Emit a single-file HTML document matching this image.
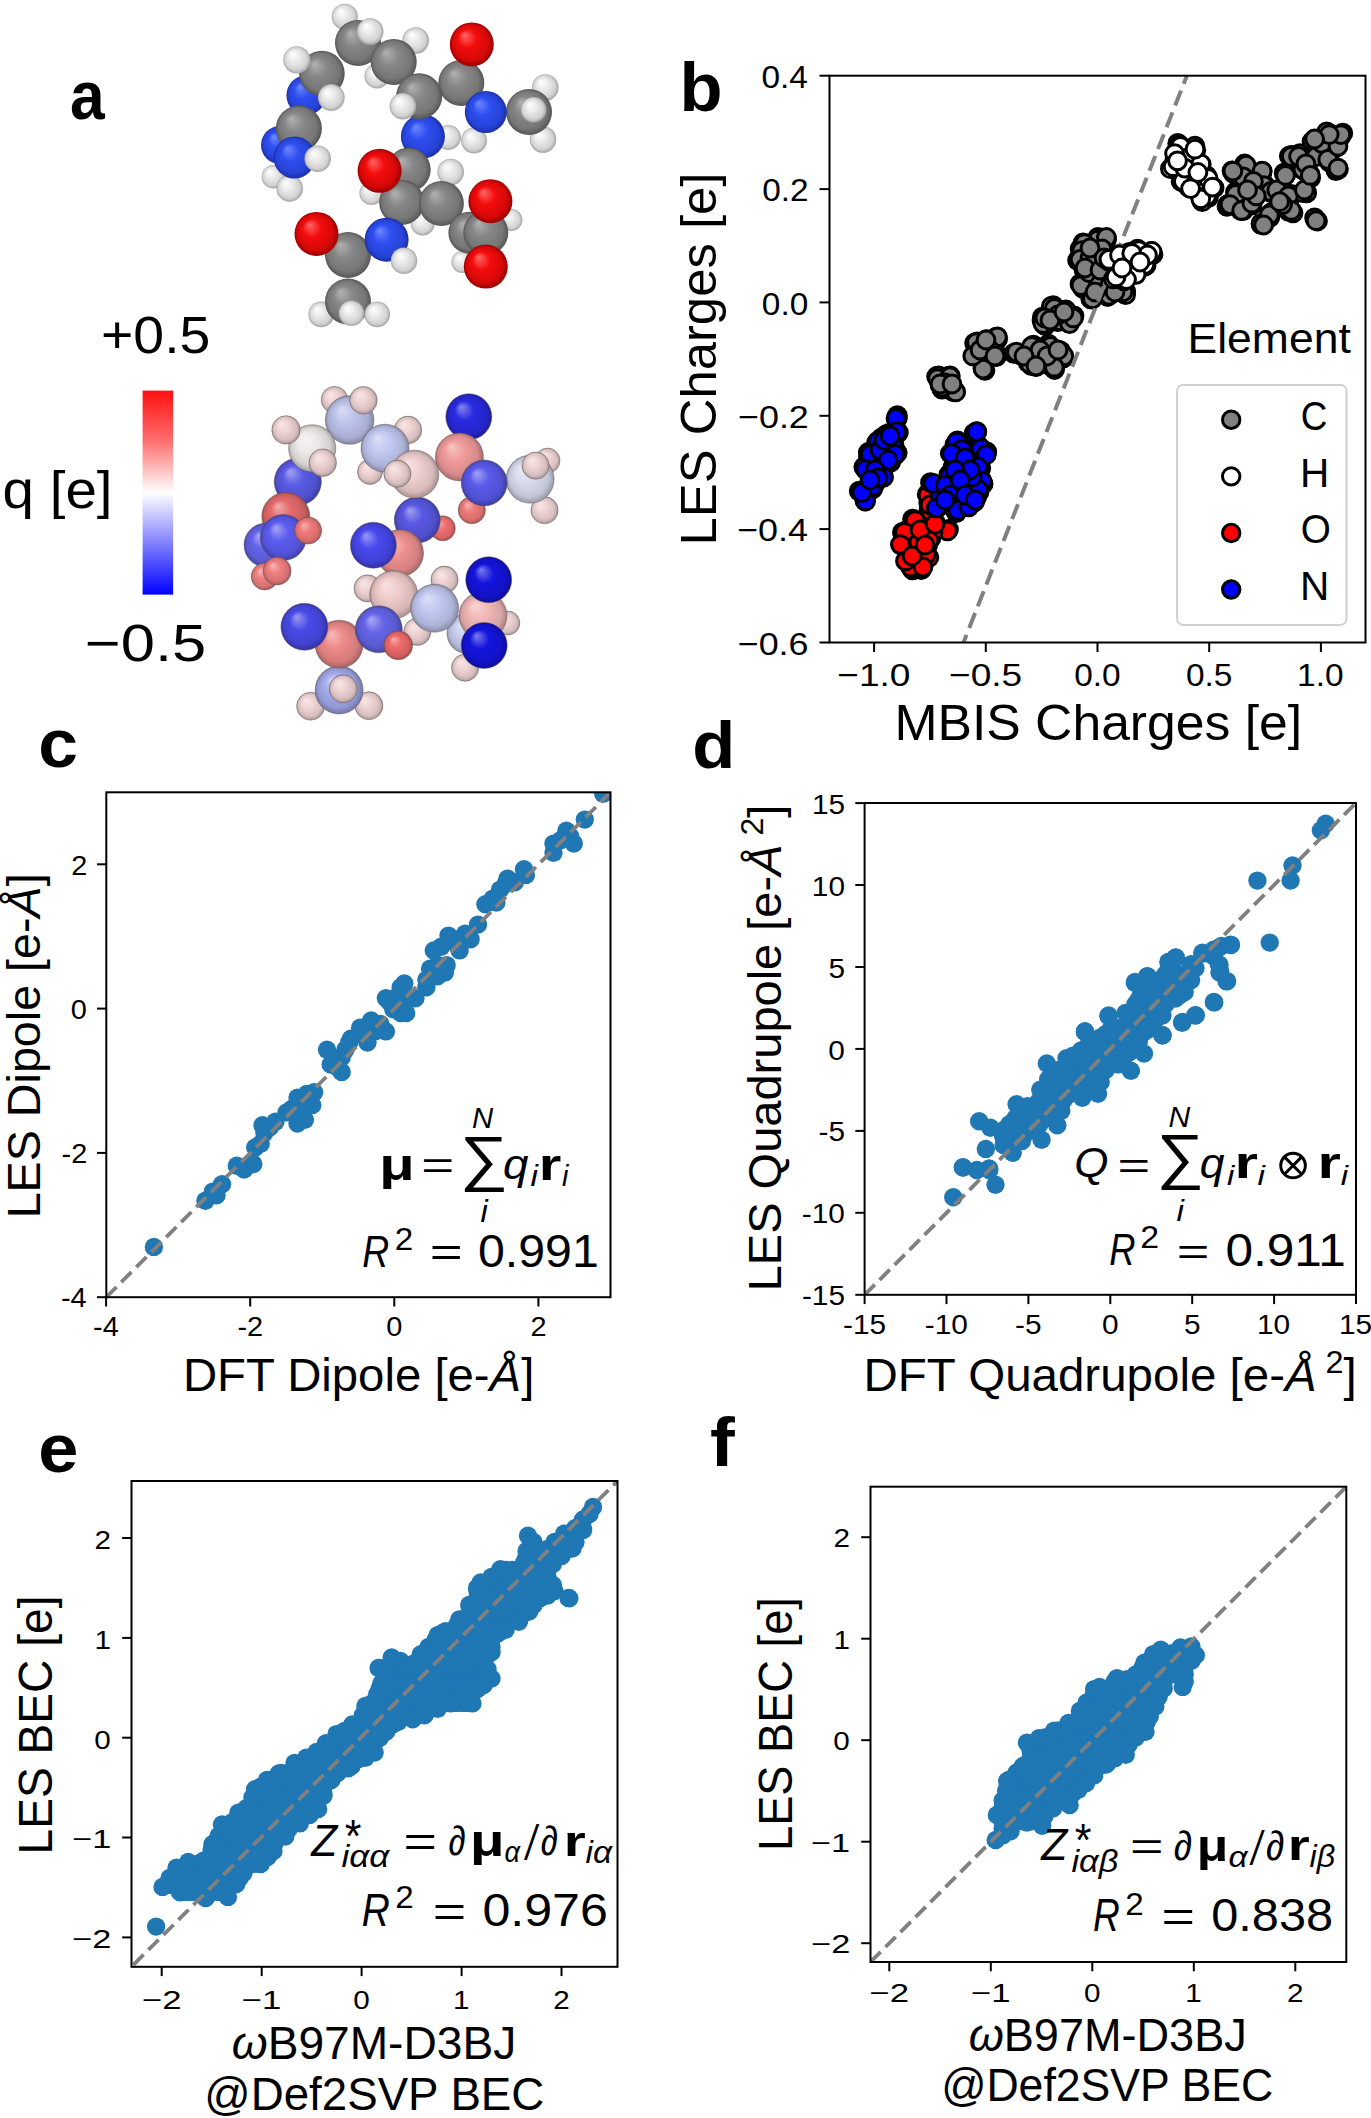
<!DOCTYPE html>
<html><head><meta charset="utf-8"><title>Figure</title>
<style>html,body{margin:0;padding:0;background:#fff;width:1371px;height:2118px;overflow:hidden}svg{display:block}text{font-family:"Liberation Sans",sans-serif}</style>
</head><body>
<svg width="1371" height="2118" viewBox="0 0 1371 2118" font-family="'Liberation Sans', sans-serif"><defs><clipPath id="cb"><rect x="829.5" y="75.7" width="536.0" height="566.8"/></clipPath><clipPath id="cc"><rect x="106.3" y="792.3" width="504.2" height="504.9000000000001"/></clipPath><clipPath id="cd"><rect x="864.6" y="803" width="491.4" height="491.79999999999995"/></clipPath><clipPath id="ce"><rect x="131.5" y="1481" width="486.0" height="485.79999999999995"/></clipPath><clipPath id="cf"><rect x="870.5" y="1486.7" width="475.79999999999995" height="475.29999999999995"/></clipPath><linearGradient id="cbar" x1="0" y1="0" x2="0" y2="1"><stop offset="0" stop-color="#ff1010"/><stop offset="0.25" stop-color="#ff7070"/><stop offset="0.5" stop-color="#ffffff"/><stop offset="0.75" stop-color="#8080ff"/><stop offset="1" stop-color="#0000ff"/></linearGradient><radialGradient id="g1" cx="0.5" cy="0.5" r="0.5" fx="0.33" fy="0.28"><stop offset="0" stop-color="#b2b2b2"/><stop offset="0.42" stop-color="#878787"/><stop offset="0.82" stop-color="#767676"/><stop offset="1" stop-color="#555555"/></radialGradient><radialGradient id="g2" cx="0.5" cy="0.5" r="0.5" fx="0.33" fy="0.28"><stop offset="0" stop-color="#ffffff"/><stop offset="0.42" stop-color="#ebebeb"/><stop offset="0.82" stop-color="#d2d2d2"/><stop offset="1" stop-color="#a4a4a4"/></radialGradient><radialGradient id="g3" cx="0.5" cy="0.5" r="0.5" fx="0.33" fy="0.28"><stop offset="0" stop-color="#6f88ff"/><stop offset="0.42" stop-color="#2e4ef0"/><stop offset="0.82" stop-color="#2743d7"/><stop offset="1" stop-color="#1a2fa8"/></radialGradient><radialGradient id="g4" cx="0.5" cy="0.5" r="0.5" fx="0.33" fy="0.28"><stop offset="0" stop-color="#ff6a6a"/><stop offset="0.42" stop-color="#f40c0c"/><stop offset="0.82" stop-color="#d40808"/><stop offset="1" stop-color="#9a0000"/></radialGradient><radialGradient id="g5" cx="0.5" cy="0.5" r="0.5" fx="0.33" fy="0.28"><stop offset="0" stop-color="#f6e7e7"/><stop offset="0.42" stop-color="#f0d4d4"/><stop offset="0.82" stop-color="#d7bebe"/><stop offset="1" stop-color="#a89494"/></radialGradient><radialGradient id="g6" cx="0.5" cy="0.5" r="0.5" fx="0.33" fy="0.28"><stop offset="0" stop-color="#dbdef4"/><stop offset="0.42" stop-color="#bec3eb"/><stop offset="0.82" stop-color="#aaaed2"/><stop offset="1" stop-color="#8588a4"/></radialGradient><radialGradient id="g7" cx="0.5" cy="0.5" r="0.5" fx="0.33" fy="0.28"><stop offset="0" stop-color="#dde0f6"/><stop offset="0.42" stop-color="#c2c8f0"/><stop offset="0.82" stop-color="#adb3d7"/><stop offset="1" stop-color="#878ca8"/></radialGradient><radialGradient id="g8" cx="0.5" cy="0.5" r="0.5" fx="0.33" fy="0.28"><stop offset="0" stop-color="#a4a4f1"/><stop offset="0.42" stop-color="#5a5ae6"/><stop offset="0.82" stop-color="#5050ce"/><stop offset="1" stop-color="#3e3ea1"/></radialGradient><radialGradient id="g9" cx="0.5" cy="0.5" r="0.5" fx="0.33" fy="0.28"><stop offset="0" stop-color="#f5f2f2"/><stop offset="0.42" stop-color="#eee9e9"/><stop offset="0.82" stop-color="#d5d0d0"/><stop offset="1" stop-color="#a6a3a3"/></radialGradient><radialGradient id="g10" cx="0.5" cy="0.5" r="0.5" fx="0.33" fy="0.28"><stop offset="0" stop-color="#f0adad"/><stop offset="0.42" stop-color="#e46a6a"/><stop offset="0.82" stop-color="#cc5f5f"/><stop offset="1" stop-color="#9f4a4a"/></radialGradient><radialGradient id="g11" cx="0.5" cy="0.5" r="0.5" fx="0.33" fy="0.28"><stop offset="0" stop-color="#a9a9f3"/><stop offset="0.42" stop-color="#6464ea"/><stop offset="0.82" stop-color="#5a5ad1"/><stop offset="1" stop-color="#4646a3"/></radialGradient><radialGradient id="g12" cx="0.5" cy="0.5" r="0.5" fx="0.33" fy="0.28"><stop offset="0" stop-color="#a5a5f6"/><stop offset="0.42" stop-color="#5c5cf0"/><stop offset="0.82" stop-color="#5252d7"/><stop offset="1" stop-color="#4040a8"/></radialGradient><radialGradient id="g13" cx="0.5" cy="0.5" r="0.5" fx="0.33" fy="0.28"><stop offset="0" stop-color="#f6b9b9"/><stop offset="0.42" stop-color="#f08080"/><stop offset="0.82" stop-color="#d77272"/><stop offset="1" stop-color="#a85959"/></radialGradient><radialGradient id="g14" cx="0.5" cy="0.5" r="0.5" fx="0.33" fy="0.28"><stop offset="0" stop-color="#f6b5b5"/><stop offset="0.42" stop-color="#f07a7a"/><stop offset="0.82" stop-color="#d76d6d"/><stop offset="1" stop-color="#a85555"/></radialGradient><radialGradient id="g15" cx="0.5" cy="0.5" r="0.5" fx="0.33" fy="0.28"><stop offset="0" stop-color="#8989ef"/><stop offset="0.42" stop-color="#2a2ae2"/><stop offset="0.82" stop-color="#2525ca"/><stop offset="1" stop-color="#1d1d9e"/></radialGradient><radialGradient id="g16" cx="0.5" cy="0.5" r="0.5" fx="0.33" fy="0.28"><stop offset="0" stop-color="#f6c7c7"/><stop offset="0.42" stop-color="#f09a9a"/><stop offset="0.82" stop-color="#d78a8a"/><stop offset="1" stop-color="#a86b6b"/></radialGradient><radialGradient id="g17" cx="0.5" cy="0.5" r="0.5" fx="0.33" fy="0.28"><stop offset="0" stop-color="#e9ebf5"/><stop offset="0.42" stop-color="#d8dcee"/><stop offset="0.82" stop-color="#c1c5d5"/><stop offset="1" stop-color="#979aa6"/></radialGradient><radialGradient id="g18" cx="0.5" cy="0.5" r="0.5" fx="0.33" fy="0.28"><stop offset="0" stop-color="#a4a4f4"/><stop offset="0.42" stop-color="#5a5aeb"/><stop offset="0.82" stop-color="#5050d2"/><stop offset="1" stop-color="#3e3ea4"/></radialGradient><radialGradient id="g19" cx="0.5" cy="0.5" r="0.5" fx="0.33" fy="0.28"><stop offset="0" stop-color="#f6b0b0"/><stop offset="0.42" stop-color="#f07070"/><stop offset="0.82" stop-color="#d76464"/><stop offset="1" stop-color="#a84e4e"/></radialGradient><radialGradient id="g20" cx="0.5" cy="0.5" r="0.5" fx="0.33" fy="0.28"><stop offset="0" stop-color="#a3a3f0"/><stop offset="0.42" stop-color="#5858e4"/><stop offset="0.82" stop-color="#4f4fcc"/><stop offset="1" stop-color="#3d3d9f"/></radialGradient><radialGradient id="g21" cx="0.5" cy="0.5" r="0.5" fx="0.33" fy="0.28"><stop offset="0" stop-color="#f6e5e5"/><stop offset="0.42" stop-color="#f0d0d0"/><stop offset="0.82" stop-color="#d7baba"/><stop offset="1" stop-color="#a89191"/></radialGradient><radialGradient id="g22" cx="0.5" cy="0.5" r="0.5" fx="0.33" fy="0.28"><stop offset="0" stop-color="#f5c1c1"/><stop offset="0.42" stop-color="#ee9090"/><stop offset="0.82" stop-color="#d58181"/><stop offset="1" stop-color="#a66464"/></radialGradient><radialGradient id="g23" cx="0.5" cy="0.5" r="0.5" fx="0.33" fy="0.28"><stop offset="0" stop-color="#9a9af5"/><stop offset="0.42" stop-color="#4848ee"/><stop offset="0.82" stop-color="#4040d5"/><stop offset="1" stop-color="#3232a6"/></radialGradient><radialGradient id="g24" cx="0.5" cy="0.5" r="0.5" fx="0.33" fy="0.28"><stop offset="0" stop-color="#f6e2e2"/><stop offset="0.42" stop-color="#f0cccc"/><stop offset="0.82" stop-color="#d7b6b6"/><stop offset="1" stop-color="#a88e8e"/></radialGradient><radialGradient id="g25" cx="0.5" cy="0.5" r="0.5" fx="0.33" fy="0.28"><stop offset="0" stop-color="#e0e4f6"/><stop offset="0.42" stop-color="#c8cef0"/><stop offset="0.82" stop-color="#b3b8d7"/><stop offset="1" stop-color="#8c90a8"/></radialGradient><radialGradient id="g26" cx="0.5" cy="0.5" r="0.5" fx="0.33" fy="0.28"><stop offset="0" stop-color="#f7d7d7"/><stop offset="0.42" stop-color="#f2b8b8"/><stop offset="0.82" stop-color="#d8a4a4"/><stop offset="1" stop-color="#a98080"/></radialGradient><radialGradient id="g27" cx="0.5" cy="0.5" r="0.5" fx="0.33" fy="0.28"><stop offset="0" stop-color="#7d7dec"/><stop offset="0.42" stop-color="#1414dd"/><stop offset="0.82" stop-color="#1212c6"/><stop offset="1" stop-color="#0e0e9a"/></radialGradient><radialGradient id="g28" cx="0.5" cy="0.5" r="0.5" fx="0.33" fy="0.28"><stop offset="0" stop-color="#ccd0f4"/><stop offset="0.42" stop-color="#a4aaec"/><stop offset="0.82" stop-color="#9298d3"/><stop offset="1" stop-color="#7276a5"/></radialGradient><radialGradient id="g29" cx="0.5" cy="0.5" r="0.5" fx="0.33" fy="0.28"><stop offset="0" stop-color="#f5bebe"/><stop offset="0.42" stop-color="#ee8a8a"/><stop offset="0.82" stop-color="#d57b7b"/><stop offset="1" stop-color="#a66060"/></radialGradient><radialGradient id="g30" cx="0.5" cy="0.5" r="0.5" fx="0.33" fy="0.28"><stop offset="0" stop-color="#9b9bf2"/><stop offset="0.42" stop-color="#4a4ae8"/><stop offset="0.82" stop-color="#4242d0"/><stop offset="1" stop-color="#3333a2"/></radialGradient><radialGradient id="g31" cx="0.5" cy="0.5" r="0.5" fx="0.33" fy="0.28"><stop offset="0" stop-color="#a9a9f2"/><stop offset="0.42" stop-color="#6464e8"/><stop offset="0.82" stop-color="#5a5ad0"/><stop offset="1" stop-color="#4646a2"/></radialGradient><radialGradient id="g32" cx="0.5" cy="0.5" r="0.5" fx="0.33" fy="0.28"><stop offset="0" stop-color="#f5adad"/><stop offset="0.42" stop-color="#ee6a6a"/><stop offset="0.82" stop-color="#d55f5f"/><stop offset="1" stop-color="#a64a4a"/></radialGradient></defs><rect width="1371" height="2118" fill="#fff"/><g clip-path="url(#cb)"><circle cx="936.6" cy="376.5" r="8.9" fill="#808080" stroke="#000" stroke-width="3.0"/><circle cx="938.6" cy="376.0" r="8.9" fill="#808080" stroke="#000" stroke-width="3.0"/><circle cx="950.2" cy="375.9" r="8.9" fill="#808080" stroke="#000" stroke-width="3.0"/><circle cx="947.3" cy="376.7" r="8.9" fill="#808080" stroke="#000" stroke-width="3.0"/><circle cx="952.9" cy="391.5" r="8.9" fill="#808080" stroke="#000" stroke-width="3.0"/><circle cx="953.1" cy="389.4" r="8.9" fill="#808080" stroke="#000" stroke-width="3.0"/><circle cx="941.9" cy="389.1" r="8.9" fill="#808080" stroke="#000" stroke-width="3.0"/><circle cx="940.1" cy="385.4" r="8.9" fill="#808080" stroke="#000" stroke-width="3.0"/><circle cx="945.8" cy="385.7" r="8.9" fill="#808080" stroke="#000" stroke-width="3.0"/><circle cx="945.5" cy="382.4" r="8.9" fill="#808080" stroke="#000" stroke-width="3.0"/><circle cx="942.9" cy="381.3" r="8.9" fill="#808080" stroke="#000" stroke-width="3.0"/><circle cx="942.2" cy="382.7" r="8.9" fill="#808080" stroke="#000" stroke-width="3.0"/><circle cx="949.9" cy="381.7" r="8.9" fill="#808080" stroke="#000" stroke-width="3.0"/><circle cx="950.9" cy="385.9" r="8.9" fill="#808080" stroke="#000" stroke-width="3.0"/><circle cx="974.6" cy="343.1" r="8.9" fill="#808080" stroke="#000" stroke-width="3.0"/><circle cx="977.3" cy="341.8" r="8.9" fill="#808080" stroke="#000" stroke-width="3.0"/><circle cx="993.9" cy="343.8" r="8.9" fill="#808080" stroke="#000" stroke-width="3.0"/><circle cx="991.0" cy="344.6" r="8.9" fill="#808080" stroke="#000" stroke-width="3.0"/><circle cx="985.2" cy="359.3" r="8.9" fill="#808080" stroke="#000" stroke-width="3.0"/><circle cx="983.0" cy="360.2" r="8.9" fill="#808080" stroke="#000" stroke-width="3.0"/><circle cx="982.9" cy="367.9" r="8.9" fill="#808080" stroke="#000" stroke-width="3.0"/><circle cx="985.0" cy="370.3" r="8.9" fill="#808080" stroke="#000" stroke-width="3.0"/><circle cx="995.9" cy="337.3" r="8.9" fill="#808080" stroke="#000" stroke-width="3.0"/><circle cx="997.6" cy="339.2" r="8.9" fill="#808080" stroke="#000" stroke-width="3.0"/><circle cx="974.2" cy="354.6" r="8.9" fill="#808080" stroke="#000" stroke-width="3.0"/><circle cx="975.7" cy="353.6" r="8.9" fill="#808080" stroke="#000" stroke-width="3.0"/><circle cx="989.5" cy="351.5" r="8.9" fill="#808080" stroke="#000" stroke-width="3.0"/><circle cx="987.9" cy="349.9" r="8.9" fill="#808080" stroke="#000" stroke-width="3.0"/><circle cx="977.2" cy="351.0" r="8.9" fill="#808080" stroke="#000" stroke-width="3.0"/><circle cx="981.6" cy="350.4" r="8.9" fill="#808080" stroke="#000" stroke-width="3.0"/><circle cx="997.3" cy="354.9" r="8.9" fill="#808080" stroke="#000" stroke-width="3.0"/><circle cx="996.2" cy="356.6" r="8.9" fill="#808080" stroke="#000" stroke-width="3.0"/><circle cx="986.5" cy="339.7" r="8.9" fill="#808080" stroke="#000" stroke-width="3.0"/><circle cx="988.0" cy="342.7" r="8.9" fill="#808080" stroke="#000" stroke-width="3.0"/><circle cx="1016.2" cy="353.1" r="8.9" fill="#808080" stroke="#000" stroke-width="3.0"/><circle cx="1013.8" cy="353.3" r="8.9" fill="#808080" stroke="#000" stroke-width="3.0"/><circle cx="1032.4" cy="349.4" r="8.9" fill="#808080" stroke="#000" stroke-width="3.0"/><circle cx="1033.4" cy="345.1" r="8.9" fill="#808080" stroke="#000" stroke-width="3.0"/><circle cx="1040.3" cy="362.5" r="8.9" fill="#808080" stroke="#000" stroke-width="3.0"/><circle cx="1038.1" cy="361.3" r="8.9" fill="#808080" stroke="#000" stroke-width="3.0"/><circle cx="1048.5" cy="344.1" r="8.9" fill="#808080" stroke="#000" stroke-width="3.0"/><circle cx="1047.9" cy="348.0" r="8.9" fill="#808080" stroke="#000" stroke-width="3.0"/><circle cx="1061.6" cy="354.4" r="8.9" fill="#808080" stroke="#000" stroke-width="3.0"/><circle cx="1063.1" cy="358.1" r="8.9" fill="#808080" stroke="#000" stroke-width="3.0"/><circle cx="1051.8" cy="366.9" r="8.9" fill="#808080" stroke="#000" stroke-width="3.0"/><circle cx="1054.6" cy="369.5" r="8.9" fill="#808080" stroke="#000" stroke-width="3.0"/><circle cx="1031.5" cy="365.6" r="8.9" fill="#808080" stroke="#000" stroke-width="3.0"/><circle cx="1028.3" cy="362.9" r="8.9" fill="#808080" stroke="#000" stroke-width="3.0"/><circle cx="1039.2" cy="352.3" r="8.9" fill="#808080" stroke="#000" stroke-width="3.0"/><circle cx="1042.7" cy="347.9" r="8.9" fill="#808080" stroke="#000" stroke-width="3.0"/><circle cx="1022.1" cy="354.4" r="8.9" fill="#808080" stroke="#000" stroke-width="3.0"/><circle cx="1022.4" cy="355.9" r="8.9" fill="#808080" stroke="#000" stroke-width="3.0"/><circle cx="1047.5" cy="354.6" r="8.9" fill="#808080" stroke="#000" stroke-width="3.0"/><circle cx="1044.0" cy="355.5" r="8.9" fill="#808080" stroke="#000" stroke-width="3.0"/><circle cx="1057.2" cy="350.4" r="8.9" fill="#808080" stroke="#000" stroke-width="3.0"/><circle cx="1060.7" cy="351.1" r="8.9" fill="#808080" stroke="#000" stroke-width="3.0"/><circle cx="1036.1" cy="366.7" r="8.9" fill="#808080" stroke="#000" stroke-width="3.0"/><circle cx="1037.1" cy="363.3" r="8.9" fill="#808080" stroke="#000" stroke-width="3.0"/><circle cx="1045.3" cy="325.3" r="8.9" fill="#808080" stroke="#000" stroke-width="3.0"/><circle cx="1045.1" cy="325.4" r="8.9" fill="#808080" stroke="#000" stroke-width="3.0"/><circle cx="1059.4" cy="320.2" r="8.9" fill="#808080" stroke="#000" stroke-width="3.0"/><circle cx="1057.6" cy="321.6" r="8.9" fill="#808080" stroke="#000" stroke-width="3.0"/><circle cx="1066.9" cy="321.0" r="8.9" fill="#808080" stroke="#000" stroke-width="3.0"/><circle cx="1067.8" cy="321.6" r="8.9" fill="#808080" stroke="#000" stroke-width="3.0"/><circle cx="1053.3" cy="305.7" r="8.9" fill="#808080" stroke="#000" stroke-width="3.0"/><circle cx="1051.3" cy="306.3" r="8.9" fill="#808080" stroke="#000" stroke-width="3.0"/><circle cx="1042.4" cy="317.1" r="8.9" fill="#808080" stroke="#000" stroke-width="3.0"/><circle cx="1042.0" cy="320.1" r="8.9" fill="#808080" stroke="#000" stroke-width="3.0"/><circle cx="1074.0" cy="315.8" r="8.9" fill="#808080" stroke="#000" stroke-width="3.0"/><circle cx="1071.8" cy="317.0" r="8.9" fill="#808080" stroke="#000" stroke-width="3.0"/><circle cx="1057.2" cy="312.7" r="8.9" fill="#808080" stroke="#000" stroke-width="3.0"/><circle cx="1060.1" cy="318.0" r="8.9" fill="#808080" stroke="#000" stroke-width="3.0"/><circle cx="1049.8" cy="319.9" r="8.9" fill="#808080" stroke="#000" stroke-width="3.0"/><circle cx="1047.5" cy="317.6" r="8.9" fill="#808080" stroke="#000" stroke-width="3.0"/><circle cx="1063.1" cy="310.6" r="8.9" fill="#808080" stroke="#000" stroke-width="3.0"/><circle cx="1066.0" cy="310.0" r="8.9" fill="#808080" stroke="#000" stroke-width="3.0"/><circle cx="1092.1" cy="262.1" r="8.9" fill="#808080" stroke="#000" stroke-width="3.0"/><circle cx="1095.2" cy="257.3" r="8.9" fill="#808080" stroke="#000" stroke-width="3.0"/><circle cx="1097.9" cy="237.3" r="8.9" fill="#808080" stroke="#000" stroke-width="3.0"/><circle cx="1097.8" cy="243.0" r="8.9" fill="#808080" stroke="#000" stroke-width="3.0"/><circle cx="1086.7" cy="244.8" r="8.9" fill="#808080" stroke="#000" stroke-width="3.0"/><circle cx="1083.1" cy="242.8" r="8.9" fill="#808080" stroke="#000" stroke-width="3.0"/><circle cx="1104.4" cy="239.1" r="8.9" fill="#808080" stroke="#000" stroke-width="3.0"/><circle cx="1106.6" cy="239.2" r="8.9" fill="#808080" stroke="#000" stroke-width="3.0"/><circle cx="1080.0" cy="283.9" r="8.9" fill="#808080" stroke="#000" stroke-width="3.0"/><circle cx="1082.9" cy="288.5" r="8.9" fill="#808080" stroke="#000" stroke-width="3.0"/><circle cx="1091.0" cy="274.3" r="8.9" fill="#808080" stroke="#000" stroke-width="3.0"/><circle cx="1090.8" cy="273.9" r="8.9" fill="#808080" stroke="#000" stroke-width="3.0"/><circle cx="1090.8" cy="298.9" r="8.9" fill="#808080" stroke="#000" stroke-width="3.0"/><circle cx="1091.5" cy="296.0" r="8.9" fill="#808080" stroke="#000" stroke-width="3.0"/><circle cx="1106.2" cy="294.0" r="8.9" fill="#808080" stroke="#000" stroke-width="3.0"/><circle cx="1107.6" cy="296.5" r="8.9" fill="#808080" stroke="#000" stroke-width="3.0"/><circle cx="1125.7" cy="291.5" r="8.9" fill="#808080" stroke="#000" stroke-width="3.0"/><circle cx="1125.6" cy="294.7" r="8.9" fill="#808080" stroke="#000" stroke-width="3.0"/><circle cx="1102.1" cy="284.0" r="8.9" fill="#808080" stroke="#000" stroke-width="3.0"/><circle cx="1097.7" cy="283.2" r="8.9" fill="#808080" stroke="#000" stroke-width="3.0"/><circle cx="1080.1" cy="248.8" r="8.9" fill="#808080" stroke="#000" stroke-width="3.0"/><circle cx="1082.6" cy="253.0" r="8.9" fill="#808080" stroke="#000" stroke-width="3.0"/><circle cx="1104.0" cy="248.8" r="8.9" fill="#808080" stroke="#000" stroke-width="3.0"/><circle cx="1102.9" cy="250.7" r="8.9" fill="#808080" stroke="#000" stroke-width="3.0"/><circle cx="1077.6" cy="260.4" r="8.9" fill="#808080" stroke="#000" stroke-width="3.0"/><circle cx="1082.6" cy="261.1" r="8.9" fill="#808080" stroke="#000" stroke-width="3.0"/><circle cx="1091.5" cy="257.9" r="8.9" fill="#808080" stroke="#000" stroke-width="3.0"/><circle cx="1088.1" cy="259.7" r="8.9" fill="#808080" stroke="#000" stroke-width="3.0"/><circle cx="1084.0" cy="269.8" r="8.9" fill="#808080" stroke="#000" stroke-width="3.0"/><circle cx="1087.8" cy="267.4" r="8.9" fill="#808080" stroke="#000" stroke-width="3.0"/><circle cx="1099.4" cy="272.7" r="8.9" fill="#808080" stroke="#000" stroke-width="3.0"/><circle cx="1101.3" cy="268.0" r="8.9" fill="#808080" stroke="#000" stroke-width="3.0"/><circle cx="1107.8" cy="282.9" r="8.9" fill="#808080" stroke="#000" stroke-width="3.0"/><circle cx="1112.4" cy="286.8" r="8.9" fill="#808080" stroke="#000" stroke-width="3.0"/><circle cx="1092.9" cy="294.0" r="8.9" fill="#808080" stroke="#000" stroke-width="3.0"/><circle cx="1097.9" cy="292.9" r="8.9" fill="#808080" stroke="#000" stroke-width="3.0"/><circle cx="1114.1" cy="292.3" r="8.9" fill="#808080" stroke="#000" stroke-width="3.0"/><circle cx="1112.8" cy="289.1" r="8.9" fill="#808080" stroke="#000" stroke-width="3.0"/><circle cx="1092.8" cy="248.9" r="8.9" fill="#808080" stroke="#000" stroke-width="3.0"/><circle cx="1090.2" cy="250.6" r="8.9" fill="#808080" stroke="#000" stroke-width="3.0"/><circle cx="1103.6" cy="260.2" r="8.9" fill="#808080" stroke="#000" stroke-width="3.0"/><circle cx="1106.0" cy="256.3" r="8.9" fill="#808080" stroke="#000" stroke-width="3.0"/><circle cx="1244.6" cy="164.0" r="8.9" fill="#808080" stroke="#000" stroke-width="3.0"/><circle cx="1244.5" cy="165.7" r="8.9" fill="#808080" stroke="#000" stroke-width="3.0"/><circle cx="1241.8" cy="176.4" r="8.9" fill="#808080" stroke="#000" stroke-width="3.0"/><circle cx="1241.0" cy="179.4" r="8.9" fill="#808080" stroke="#000" stroke-width="3.0"/><circle cx="1232.0" cy="170.8" r="8.9" fill="#808080" stroke="#000" stroke-width="3.0"/><circle cx="1233.4" cy="173.5" r="8.9" fill="#808080" stroke="#000" stroke-width="3.0"/><circle cx="1261.6" cy="173.6" r="8.9" fill="#808080" stroke="#000" stroke-width="3.0"/><circle cx="1262.1" cy="171.3" r="8.9" fill="#808080" stroke="#000" stroke-width="3.0"/><circle cx="1236.0" cy="191.5" r="8.9" fill="#808080" stroke="#000" stroke-width="3.0"/><circle cx="1235.5" cy="192.5" r="8.9" fill="#808080" stroke="#000" stroke-width="3.0"/><circle cx="1227.0" cy="206.4" r="8.9" fill="#808080" stroke="#000" stroke-width="3.0"/><circle cx="1228.0" cy="204.4" r="8.9" fill="#808080" stroke="#000" stroke-width="3.0"/><circle cx="1243.1" cy="210.7" r="8.9" fill="#808080" stroke="#000" stroke-width="3.0"/><circle cx="1240.7" cy="210.5" r="8.9" fill="#808080" stroke="#000" stroke-width="3.0"/><circle cx="1252.2" cy="204.9" r="8.9" fill="#808080" stroke="#000" stroke-width="3.0"/><circle cx="1249.5" cy="203.6" r="8.9" fill="#808080" stroke="#000" stroke-width="3.0"/><circle cx="1262.1" cy="184.3" r="8.9" fill="#808080" stroke="#000" stroke-width="3.0"/><circle cx="1265.2" cy="185.6" r="8.9" fill="#808080" stroke="#000" stroke-width="3.0"/><circle cx="1253.8" cy="182.9" r="8.9" fill="#808080" stroke="#000" stroke-width="3.0"/><circle cx="1255.9" cy="181.0" r="8.9" fill="#808080" stroke="#000" stroke-width="3.0"/><circle cx="1271.6" cy="191.5" r="8.9" fill="#808080" stroke="#000" stroke-width="3.0"/><circle cx="1271.0" cy="192.7" r="8.9" fill="#808080" stroke="#000" stroke-width="3.0"/><circle cx="1276.4" cy="190.2" r="8.9" fill="#808080" stroke="#000" stroke-width="3.0"/><circle cx="1276.6" cy="192.6" r="8.9" fill="#808080" stroke="#000" stroke-width="3.0"/><circle cx="1289.6" cy="198.2" r="8.9" fill="#808080" stroke="#000" stroke-width="3.0"/><circle cx="1291.1" cy="194.5" r="8.9" fill="#808080" stroke="#000" stroke-width="3.0"/><circle cx="1269.8" cy="217.5" r="8.9" fill="#808080" stroke="#000" stroke-width="3.0"/><circle cx="1271.4" cy="212.6" r="8.9" fill="#808080" stroke="#000" stroke-width="3.0"/><circle cx="1261.3" cy="224.7" r="8.9" fill="#808080" stroke="#000" stroke-width="3.0"/><circle cx="1261.0" cy="223.4" r="8.9" fill="#808080" stroke="#000" stroke-width="3.0"/><circle cx="1288.7" cy="211.4" r="8.9" fill="#808080" stroke="#000" stroke-width="3.0"/><circle cx="1293.0" cy="212.8" r="8.9" fill="#808080" stroke="#000" stroke-width="3.0"/><circle cx="1280.4" cy="205.9" r="8.9" fill="#808080" stroke="#000" stroke-width="3.0"/><circle cx="1283.5" cy="202.5" r="8.9" fill="#808080" stroke="#000" stroke-width="3.0"/><circle cx="1306.7" cy="192.8" r="8.9" fill="#808080" stroke="#000" stroke-width="3.0"/><circle cx="1302.7" cy="192.7" r="8.9" fill="#808080" stroke="#000" stroke-width="3.0"/><circle cx="1302.4" cy="169.5" r="8.9" fill="#808080" stroke="#000" stroke-width="3.0"/><circle cx="1305.9" cy="171.6" r="8.9" fill="#808080" stroke="#000" stroke-width="3.0"/><circle cx="1289.3" cy="156.1" r="8.9" fill="#808080" stroke="#000" stroke-width="3.0"/><circle cx="1291.4" cy="155.5" r="8.9" fill="#808080" stroke="#000" stroke-width="3.0"/><circle cx="1296.8" cy="155.4" r="8.9" fill="#808080" stroke="#000" stroke-width="3.0"/><circle cx="1299.9" cy="153.6" r="8.9" fill="#808080" stroke="#000" stroke-width="3.0"/><circle cx="1316.4" cy="156.1" r="8.9" fill="#808080" stroke="#000" stroke-width="3.0"/><circle cx="1313.2" cy="155.5" r="8.9" fill="#808080" stroke="#000" stroke-width="3.0"/><circle cx="1322.5" cy="143.4" r="8.9" fill="#808080" stroke="#000" stroke-width="3.0"/><circle cx="1319.2" cy="146.2" r="8.9" fill="#808080" stroke="#000" stroke-width="3.0"/><circle cx="1329.5" cy="162.2" r="8.9" fill="#808080" stroke="#000" stroke-width="3.0"/><circle cx="1325.4" cy="158.0" r="8.9" fill="#808080" stroke="#000" stroke-width="3.0"/><circle cx="1335.2" cy="148.0" r="8.9" fill="#808080" stroke="#000" stroke-width="3.0"/><circle cx="1336.6" cy="144.1" r="8.9" fill="#808080" stroke="#000" stroke-width="3.0"/><circle cx="1340.4" cy="137.1" r="8.9" fill="#808080" stroke="#000" stroke-width="3.0"/><circle cx="1342.8" cy="133.2" r="8.9" fill="#808080" stroke="#000" stroke-width="3.0"/><circle cx="1335.9" cy="170.6" r="8.9" fill="#808080" stroke="#000" stroke-width="3.0"/><circle cx="1338.4" cy="169.3" r="8.9" fill="#808080" stroke="#000" stroke-width="3.0"/><circle cx="1326.7" cy="131.9" r="8.9" fill="#808080" stroke="#000" stroke-width="3.0"/><circle cx="1330.3" cy="134.2" r="8.9" fill="#808080" stroke="#000" stroke-width="3.0"/><circle cx="1312.0" cy="141.6" r="8.9" fill="#808080" stroke="#000" stroke-width="3.0"/><circle cx="1315.4" cy="140.8" r="8.9" fill="#808080" stroke="#000" stroke-width="3.0"/><circle cx="1303.4" cy="165.9" r="8.9" fill="#808080" stroke="#000" stroke-width="3.0"/><circle cx="1303.3" cy="166.0" r="8.9" fill="#808080" stroke="#000" stroke-width="3.0"/><circle cx="1310.0" cy="174.4" r="8.9" fill="#808080" stroke="#000" stroke-width="3.0"/><circle cx="1310.6" cy="178.0" r="8.9" fill="#808080" stroke="#000" stroke-width="3.0"/><circle cx="1284.1" cy="173.2" r="8.9" fill="#808080" stroke="#000" stroke-width="3.0"/><circle cx="1285.7" cy="173.8" r="8.9" fill="#808080" stroke="#000" stroke-width="3.0"/><circle cx="1254.0" cy="193.9" r="8.9" fill="#808080" stroke="#000" stroke-width="3.0"/><circle cx="1253.6" cy="194.1" r="8.9" fill="#808080" stroke="#000" stroke-width="3.0"/><circle cx="1246.4" cy="188.8" r="8.9" fill="#808080" stroke="#000" stroke-width="3.0"/><circle cx="1249.1" cy="188.7" r="8.9" fill="#808080" stroke="#000" stroke-width="3.0"/><circle cx="1279.6" cy="199.8" r="8.9" fill="#808080" stroke="#000" stroke-width="3.0"/><circle cx="1278.7" cy="198.8" r="8.9" fill="#808080" stroke="#000" stroke-width="3.0"/><circle cx="1314.6" cy="217.8" r="8.9" fill="#808080" stroke="#000" stroke-width="3.0"/><circle cx="1317.5" cy="221.0" r="8.9" fill="#808080" stroke="#000" stroke-width="3.0"/><circle cx="937.7" cy="378.6" r="8.9" fill="#808080" stroke="#000" stroke-width="3.0"/><circle cx="950.0" cy="376.7" r="8.9" fill="#808080" stroke="#000" stroke-width="3.0"/><circle cx="955.7" cy="391.9" r="8.9" fill="#808080" stroke="#000" stroke-width="3.0"/><circle cx="942.4" cy="387.1" r="8.9" fill="#808080" stroke="#000" stroke-width="3.0"/><circle cx="945.0" cy="383.0" r="8.9" fill="#808080" stroke="#000" stroke-width="3.0"/><circle cx="940.0" cy="384.0" r="8.9" fill="#808080" stroke="#000" stroke-width="3.0"/><circle cx="952.0" cy="384.0" r="8.9" fill="#808080" stroke="#000" stroke-width="3.0"/><circle cx="976.5" cy="342.6" r="8.9" fill="#808080" stroke="#000" stroke-width="3.0"/><circle cx="993.6" cy="346.4" r="8.9" fill="#808080" stroke="#000" stroke-width="3.0"/><circle cx="984.1" cy="359.7" r="8.9" fill="#808080" stroke="#000" stroke-width="3.0"/><circle cx="983.2" cy="369.1" r="8.9" fill="#808080" stroke="#000" stroke-width="3.0"/><circle cx="997.4" cy="336.9" r="8.9" fill="#808080" stroke="#000" stroke-width="3.0"/><circle cx="972.8" cy="355.9" r="8.9" fill="#808080" stroke="#000" stroke-width="3.0"/><circle cx="990.0" cy="350.0" r="8.9" fill="#808080" stroke="#000" stroke-width="3.0"/><circle cx="980.0" cy="350.0" r="8.9" fill="#808080" stroke="#000" stroke-width="3.0"/><circle cx="995.0" cy="356.0" r="8.9" fill="#808080" stroke="#000" stroke-width="3.0"/><circle cx="986.0" cy="340.0" r="8.9" fill="#808080" stroke="#000" stroke-width="3.0"/><circle cx="1016.4" cy="352.1" r="8.9" fill="#808080" stroke="#000" stroke-width="3.0"/><circle cx="1031.5" cy="346.4" r="8.9" fill="#808080" stroke="#000" stroke-width="3.0"/><circle cx="1041.0" cy="361.5" r="8.9" fill="#808080" stroke="#000" stroke-width="3.0"/><circle cx="1050.5" cy="346.4" r="8.9" fill="#808080" stroke="#000" stroke-width="3.0"/><circle cx="1063.8" cy="355.9" r="8.9" fill="#808080" stroke="#000" stroke-width="3.0"/><circle cx="1054.3" cy="367.2" r="8.9" fill="#808080" stroke="#000" stroke-width="3.0"/><circle cx="1029.6" cy="363.4" r="8.9" fill="#808080" stroke="#000" stroke-width="3.0"/><circle cx="1040.0" cy="350.0" r="8.9" fill="#808080" stroke="#000" stroke-width="3.0"/><circle cx="1024.0" cy="356.0" r="8.9" fill="#808080" stroke="#000" stroke-width="3.0"/><circle cx="1047.0" cy="356.0" r="8.9" fill="#808080" stroke="#000" stroke-width="3.0"/><circle cx="1058.0" cy="350.0" r="8.9" fill="#808080" stroke="#000" stroke-width="3.0"/><circle cx="1036.0" cy="366.0" r="8.9" fill="#808080" stroke="#000" stroke-width="3.0"/><circle cx="1042.9" cy="323.6" r="8.9" fill="#808080" stroke="#000" stroke-width="3.0"/><circle cx="1060.0" cy="320.8" r="8.9" fill="#808080" stroke="#000" stroke-width="3.0"/><circle cx="1069.5" cy="323.6" r="8.9" fill="#808080" stroke="#000" stroke-width="3.0"/><circle cx="1054.3" cy="308.4" r="8.9" fill="#808080" stroke="#000" stroke-width="3.0"/><circle cx="1044.8" cy="317.9" r="8.9" fill="#808080" stroke="#000" stroke-width="3.0"/><circle cx="1073.3" cy="317.9" r="8.9" fill="#808080" stroke="#000" stroke-width="3.0"/><circle cx="1058.0" cy="315.0" r="8.9" fill="#808080" stroke="#000" stroke-width="3.0"/><circle cx="1050.0" cy="320.0" r="8.9" fill="#808080" stroke="#000" stroke-width="3.0"/><circle cx="1064.0" cy="312.0" r="8.9" fill="#808080" stroke="#000" stroke-width="3.0"/><circle cx="1095.0" cy="259.4" r="8.9" fill="#808080" stroke="#000" stroke-width="3.0"/><circle cx="1097.6" cy="240.1" r="8.9" fill="#808080" stroke="#000" stroke-width="3.0"/><circle cx="1084.5" cy="243.6" r="8.9" fill="#808080" stroke="#000" stroke-width="3.0"/><circle cx="1106.4" cy="237.5" r="8.9" fill="#808080" stroke="#000" stroke-width="3.0"/><circle cx="1081.0" cy="285.6" r="8.9" fill="#808080" stroke="#000" stroke-width="3.0"/><circle cx="1088.9" cy="272.5" r="8.9" fill="#808080" stroke="#000" stroke-width="3.0"/><circle cx="1092.4" cy="298.8" r="8.9" fill="#808080" stroke="#000" stroke-width="3.0"/><circle cx="1109.0" cy="295.3" r="8.9" fill="#808080" stroke="#000" stroke-width="3.0"/><circle cx="1123.0" cy="291.8" r="8.9" fill="#808080" stroke="#000" stroke-width="3.0"/><circle cx="1099.4" cy="284.8" r="8.9" fill="#808080" stroke="#000" stroke-width="3.0"/><circle cx="1081.9" cy="250.6" r="8.9" fill="#808080" stroke="#000" stroke-width="3.0"/><circle cx="1102.0" cy="248.9" r="8.9" fill="#808080" stroke="#000" stroke-width="3.0"/><circle cx="1080.1" cy="259.4" r="8.9" fill="#808080" stroke="#000" stroke-width="3.0"/><circle cx="1090.0" cy="258.0" r="8.9" fill="#808080" stroke="#000" stroke-width="3.0"/><circle cx="1085.0" cy="268.0" r="8.9" fill="#808080" stroke="#000" stroke-width="3.0"/><circle cx="1100.0" cy="270.0" r="8.9" fill="#808080" stroke="#000" stroke-width="3.0"/><circle cx="1110.0" cy="285.0" r="8.9" fill="#808080" stroke="#000" stroke-width="3.0"/><circle cx="1095.0" cy="292.0" r="8.9" fill="#808080" stroke="#000" stroke-width="3.0"/><circle cx="1115.0" cy="292.0" r="8.9" fill="#808080" stroke="#000" stroke-width="3.0"/><circle cx="1090.0" cy="248.0" r="8.9" fill="#808080" stroke="#000" stroke-width="3.0"/><circle cx="1104.0" cy="258.0" r="8.9" fill="#808080" stroke="#000" stroke-width="3.0"/><circle cx="1246.1" cy="165.2" r="8.9" fill="#808080" stroke="#000" stroke-width="3.0"/><circle cx="1243.2" cy="176.9" r="8.9" fill="#808080" stroke="#000" stroke-width="3.0"/><circle cx="1232.9" cy="171.1" r="8.9" fill="#808080" stroke="#000" stroke-width="3.0"/><circle cx="1262.1" cy="171.1" r="8.9" fill="#808080" stroke="#000" stroke-width="3.0"/><circle cx="1235.9" cy="194.4" r="8.9" fill="#808080" stroke="#000" stroke-width="3.0"/><circle cx="1230.0" cy="204.6" r="8.9" fill="#808080" stroke="#000" stroke-width="3.0"/><circle cx="1241.7" cy="210.4" r="8.9" fill="#808080" stroke="#000" stroke-width="3.0"/><circle cx="1251.9" cy="203.2" r="8.9" fill="#808080" stroke="#000" stroke-width="3.0"/><circle cx="1263.6" cy="185.6" r="8.9" fill="#808080" stroke="#000" stroke-width="3.0"/><circle cx="1253.4" cy="181.3" r="8.9" fill="#808080" stroke="#000" stroke-width="3.0"/><circle cx="1270.9" cy="191.5" r="8.9" fill="#808080" stroke="#000" stroke-width="3.0"/><circle cx="1276.7" cy="190.0" r="8.9" fill="#808080" stroke="#000" stroke-width="3.0"/><circle cx="1288.4" cy="195.9" r="8.9" fill="#808080" stroke="#000" stroke-width="3.0"/><circle cx="1269.4" cy="214.8" r="8.9" fill="#808080" stroke="#000" stroke-width="3.0"/><circle cx="1263.6" cy="225.0" r="8.9" fill="#808080" stroke="#000" stroke-width="3.0"/><circle cx="1291.3" cy="210.4" r="8.9" fill="#808080" stroke="#000" stroke-width="3.0"/><circle cx="1282.5" cy="204.6" r="8.9" fill="#808080" stroke="#000" stroke-width="3.0"/><circle cx="1304.4" cy="190.0" r="8.9" fill="#808080" stroke="#000" stroke-width="3.0"/><circle cx="1303.0" cy="169.6" r="8.9" fill="#808080" stroke="#000" stroke-width="3.0"/><circle cx="1291.3" cy="156.5" r="8.9" fill="#808080" stroke="#000" stroke-width="3.0"/><circle cx="1298.6" cy="156.5" r="8.9" fill="#808080" stroke="#000" stroke-width="3.0"/><circle cx="1316.1" cy="156.5" r="8.9" fill="#808080" stroke="#000" stroke-width="3.0"/><circle cx="1321.8" cy="143.3" r="8.9" fill="#808080" stroke="#000" stroke-width="3.0"/><circle cx="1327.8" cy="159.4" r="8.9" fill="#808080" stroke="#000" stroke-width="3.0"/><circle cx="1338.0" cy="146.3" r="8.9" fill="#808080" stroke="#000" stroke-width="3.0"/><circle cx="1340.9" cy="134.6" r="8.9" fill="#808080" stroke="#000" stroke-width="3.0"/><circle cx="1338.0" cy="168.1" r="8.9" fill="#808080" stroke="#000" stroke-width="3.0"/><circle cx="1329.2" cy="134.6" r="8.9" fill="#808080" stroke="#000" stroke-width="3.0"/><circle cx="1314.6" cy="139.0" r="8.9" fill="#808080" stroke="#000" stroke-width="3.0"/><circle cx="1305.9" cy="163.8" r="8.9" fill="#808080" stroke="#000" stroke-width="3.0"/><circle cx="1310.3" cy="175.4" r="8.9" fill="#808080" stroke="#000" stroke-width="3.0"/><circle cx="1285.5" cy="175.4" r="8.9" fill="#808080" stroke="#000" stroke-width="3.0"/><circle cx="1256.3" cy="195.9" r="8.9" fill="#808080" stroke="#000" stroke-width="3.0"/><circle cx="1247.5" cy="190.0" r="8.9" fill="#808080" stroke="#000" stroke-width="3.0"/><circle cx="1279.6" cy="201.7" r="8.9" fill="#808080" stroke="#000" stroke-width="3.0"/><circle cx="1316.1" cy="220.7" r="8.9" fill="#808080" stroke="#000" stroke-width="3.0"/></g>
<line x1="963.5" y1="642.5" x2="1186.9" y2="75.7" stroke="#808080" stroke-width="4.0" stroke-dasharray="16 7.4" stroke-dashoffset="7.8" clip-path="url(#cb)"/>
<g clip-path="url(#cb)"><circle cx="1126.8" cy="264.4" r="8.9" fill="#ffffff" stroke="#000" stroke-width="3.0"/><circle cx="1131.3" cy="262.2" r="8.9" fill="#ffffff" stroke="#000" stroke-width="3.0"/><circle cx="1110.9" cy="259.0" r="8.9" fill="#ffffff" stroke="#000" stroke-width="3.0"/><circle cx="1109.0" cy="261.4" r="8.9" fill="#ffffff" stroke="#000" stroke-width="3.0"/><circle cx="1151.3" cy="251.5" r="8.9" fill="#ffffff" stroke="#000" stroke-width="3.0"/><circle cx="1153.0" cy="254.4" r="8.9" fill="#ffffff" stroke="#000" stroke-width="3.0"/><circle cx="1144.0" cy="266.6" r="8.9" fill="#ffffff" stroke="#000" stroke-width="3.0"/><circle cx="1146.1" cy="265.4" r="8.9" fill="#ffffff" stroke="#000" stroke-width="3.0"/><circle cx="1135.5" cy="273.4" r="8.9" fill="#ffffff" stroke="#000" stroke-width="3.0"/><circle cx="1133.4" cy="272.1" r="8.9" fill="#ffffff" stroke="#000" stroke-width="3.0"/><circle cx="1123.9" cy="280.9" r="8.9" fill="#ffffff" stroke="#000" stroke-width="3.0"/><circle cx="1125.0" cy="277.5" r="8.9" fill="#ffffff" stroke="#000" stroke-width="3.0"/><circle cx="1113.5" cy="278.9" r="8.9" fill="#ffffff" stroke="#000" stroke-width="3.0"/><circle cx="1118.2" cy="277.9" r="8.9" fill="#ffffff" stroke="#000" stroke-width="3.0"/><circle cx="1137.5" cy="249.1" r="8.9" fill="#ffffff" stroke="#000" stroke-width="3.0"/><circle cx="1137.6" cy="250.4" r="8.9" fill="#ffffff" stroke="#000" stroke-width="3.0"/><circle cx="1117.4" cy="254.7" r="8.9" fill="#ffffff" stroke="#000" stroke-width="3.0"/><circle cx="1118.1" cy="257.8" r="8.9" fill="#ffffff" stroke="#000" stroke-width="3.0"/><circle cx="1150.3" cy="255.3" r="8.9" fill="#ffffff" stroke="#000" stroke-width="3.0"/><circle cx="1146.0" cy="257.8" r="8.9" fill="#ffffff" stroke="#000" stroke-width="3.0"/><circle cx="1130.7" cy="252.4" r="8.9" fill="#ffffff" stroke="#000" stroke-width="3.0"/><circle cx="1128.8" cy="252.6" r="8.9" fill="#ffffff" stroke="#000" stroke-width="3.0"/><circle cx="1121.8" cy="268.0" r="8.9" fill="#ffffff" stroke="#000" stroke-width="3.0"/><circle cx="1120.2" cy="268.0" r="8.9" fill="#ffffff" stroke="#000" stroke-width="3.0"/><circle cx="1137.0" cy="260.6" r="8.9" fill="#ffffff" stroke="#000" stroke-width="3.0"/><circle cx="1137.5" cy="261.4" r="8.9" fill="#ffffff" stroke="#000" stroke-width="3.0"/><circle cx="1177.7" cy="143.4" r="8.9" fill="#ffffff" stroke="#000" stroke-width="3.0"/><circle cx="1179.2" cy="144.7" r="8.9" fill="#ffffff" stroke="#000" stroke-width="3.0"/><circle cx="1188.2" cy="158.1" r="8.9" fill="#ffffff" stroke="#000" stroke-width="3.0"/><circle cx="1189.2" cy="158.8" r="8.9" fill="#ffffff" stroke="#000" stroke-width="3.0"/><circle cx="1192.7" cy="177.7" r="8.9" fill="#ffffff" stroke="#000" stroke-width="3.0"/><circle cx="1190.7" cy="174.4" r="8.9" fill="#ffffff" stroke="#000" stroke-width="3.0"/><circle cx="1177.5" cy="151.5" r="8.9" fill="#ffffff" stroke="#000" stroke-width="3.0"/><circle cx="1175.9" cy="154.5" r="8.9" fill="#ffffff" stroke="#000" stroke-width="3.0"/><circle cx="1170.4" cy="168.7" r="8.9" fill="#ffffff" stroke="#000" stroke-width="3.0"/><circle cx="1175.5" cy="167.5" r="8.9" fill="#ffffff" stroke="#000" stroke-width="3.0"/><circle cx="1184.7" cy="183.2" r="8.9" fill="#ffffff" stroke="#000" stroke-width="3.0"/><circle cx="1181.1" cy="181.4" r="8.9" fill="#ffffff" stroke="#000" stroke-width="3.0"/><circle cx="1196.5" cy="183.3" r="8.9" fill="#ffffff" stroke="#000" stroke-width="3.0"/><circle cx="1198.3" cy="183.3" r="8.9" fill="#ffffff" stroke="#000" stroke-width="3.0"/><circle cx="1204.3" cy="191.0" r="8.9" fill="#ffffff" stroke="#000" stroke-width="3.0"/><circle cx="1204.9" cy="189.8" r="8.9" fill="#ffffff" stroke="#000" stroke-width="3.0"/><circle cx="1206.5" cy="175.6" r="8.9" fill="#ffffff" stroke="#000" stroke-width="3.0"/><circle cx="1205.9" cy="177.6" r="8.9" fill="#ffffff" stroke="#000" stroke-width="3.0"/><circle cx="1198.4" cy="165.8" r="8.9" fill="#ffffff" stroke="#000" stroke-width="3.0"/><circle cx="1201.2" cy="164.6" r="8.9" fill="#ffffff" stroke="#000" stroke-width="3.0"/><circle cx="1195.8" cy="150.3" r="8.9" fill="#ffffff" stroke="#000" stroke-width="3.0"/><circle cx="1194.9" cy="146.2" r="8.9" fill="#ffffff" stroke="#000" stroke-width="3.0"/><circle cx="1208.5" cy="197.4" r="8.9" fill="#ffffff" stroke="#000" stroke-width="3.0"/><circle cx="1206.7" cy="196.1" r="8.9" fill="#ffffff" stroke="#000" stroke-width="3.0"/><circle cx="1185.8" cy="165.5" r="8.9" fill="#ffffff" stroke="#000" stroke-width="3.0"/><circle cx="1186.2" cy="166.6" r="8.9" fill="#ffffff" stroke="#000" stroke-width="3.0"/><circle cx="1174.9" cy="159.4" r="8.9" fill="#ffffff" stroke="#000" stroke-width="3.0"/><circle cx="1178.9" cy="159.0" r="8.9" fill="#ffffff" stroke="#000" stroke-width="3.0"/><circle cx="1202.2" cy="201.7" r="8.9" fill="#ffffff" stroke="#000" stroke-width="3.0"/><circle cx="1200.8" cy="198.1" r="8.9" fill="#ffffff" stroke="#000" stroke-width="3.0"/><circle cx="1212.4" cy="188.2" r="8.9" fill="#ffffff" stroke="#000" stroke-width="3.0"/><circle cx="1214.1" cy="187.8" r="8.9" fill="#ffffff" stroke="#000" stroke-width="3.0"/><circle cx="1191.5" cy="186.1" r="8.9" fill="#ffffff" stroke="#000" stroke-width="3.0"/><circle cx="1188.5" cy="187.1" r="8.9" fill="#ffffff" stroke="#000" stroke-width="3.0"/><circle cx="1199.4" cy="171.3" r="8.9" fill="#ffffff" stroke="#000" stroke-width="3.0"/><circle cx="1198.3" cy="169.6" r="8.9" fill="#ffffff" stroke="#000" stroke-width="3.0"/><circle cx="1128.7" cy="264.6" r="8.9" fill="#ffffff" stroke="#000" stroke-width="3.0"/><circle cx="1109.0" cy="259.4" r="8.9" fill="#ffffff" stroke="#000" stroke-width="3.0"/><circle cx="1151.9" cy="251.5" r="8.9" fill="#ffffff" stroke="#000" stroke-width="3.0"/><circle cx="1144.9" cy="264.6" r="8.9" fill="#ffffff" stroke="#000" stroke-width="3.0"/><circle cx="1136.1" cy="274.3" r="8.9" fill="#ffffff" stroke="#000" stroke-width="3.0"/><circle cx="1126.5" cy="279.5" r="8.9" fill="#ffffff" stroke="#000" stroke-width="3.0"/><circle cx="1116.0" cy="276.9" r="8.9" fill="#ffffff" stroke="#000" stroke-width="3.0"/><circle cx="1138.8" cy="250.6" r="8.9" fill="#ffffff" stroke="#000" stroke-width="3.0"/><circle cx="1119.5" cy="255.0" r="8.9" fill="#ffffff" stroke="#000" stroke-width="3.0"/><circle cx="1147.5" cy="255.0" r="8.9" fill="#ffffff" stroke="#000" stroke-width="3.0"/><circle cx="1131.8" cy="253.3" r="8.9" fill="#ffffff" stroke="#000" stroke-width="3.0"/><circle cx="1122.0" cy="268.0" r="8.9" fill="#ffffff" stroke="#000" stroke-width="3.0"/><circle cx="1140.0" cy="262.0" r="8.9" fill="#ffffff" stroke="#000" stroke-width="3.0"/><circle cx="1180.4" cy="146.3" r="8.9" fill="#ffffff" stroke="#000" stroke-width="3.0"/><circle cx="1187.7" cy="157.9" r="8.9" fill="#ffffff" stroke="#000" stroke-width="3.0"/><circle cx="1191.4" cy="175.4" r="8.9" fill="#ffffff" stroke="#000" stroke-width="3.0"/><circle cx="1174.6" cy="153.6" r="8.9" fill="#ffffff" stroke="#000" stroke-width="3.0"/><circle cx="1173.1" cy="166.7" r="8.9" fill="#ffffff" stroke="#000" stroke-width="3.0"/><circle cx="1183.3" cy="181.3" r="8.9" fill="#ffffff" stroke="#000" stroke-width="3.0"/><circle cx="1196.5" cy="181.3" r="8.9" fill="#ffffff" stroke="#000" stroke-width="3.0"/><circle cx="1203.8" cy="188.6" r="8.9" fill="#ffffff" stroke="#000" stroke-width="3.0"/><circle cx="1208.1" cy="178.4" r="8.9" fill="#ffffff" stroke="#000" stroke-width="3.0"/><circle cx="1200.8" cy="163.8" r="8.9" fill="#ffffff" stroke="#000" stroke-width="3.0"/><circle cx="1195.0" cy="149.2" r="8.9" fill="#ffffff" stroke="#000" stroke-width="3.0"/><circle cx="1206.7" cy="195.9" r="8.9" fill="#ffffff" stroke="#000" stroke-width="3.0"/><circle cx="1184.8" cy="168.1" r="8.9" fill="#ffffff" stroke="#000" stroke-width="3.0"/><circle cx="1177.5" cy="160.8" r="8.9" fill="#ffffff" stroke="#000" stroke-width="3.0"/><circle cx="1200.8" cy="198.8" r="8.9" fill="#ffffff" stroke="#000" stroke-width="3.0"/><circle cx="1212.5" cy="187.1" r="8.9" fill="#ffffff" stroke="#000" stroke-width="3.0"/><circle cx="1190.6" cy="188.6" r="8.9" fill="#ffffff" stroke="#000" stroke-width="3.0"/><circle cx="1197.9" cy="172.5" r="8.9" fill="#ffffff" stroke="#000" stroke-width="3.0"/></g>
<g clip-path="url(#cb)"><circle cx="912.6" cy="519.2" r="8.9" fill="#ff0000" stroke="#000" stroke-width="3.0"/><circle cx="916.2" cy="521.8" r="8.9" fill="#ff0000" stroke="#000" stroke-width="3.0"/><circle cx="948.5" cy="529.5" r="8.9" fill="#ff0000" stroke="#000" stroke-width="3.0"/><circle cx="947.5" cy="530.6" r="8.9" fill="#ff0000" stroke="#000" stroke-width="3.0"/><circle cx="909.4" cy="547.4" r="8.9" fill="#ff0000" stroke="#000" stroke-width="3.0"/><circle cx="912.0" cy="547.9" r="8.9" fill="#ff0000" stroke="#000" stroke-width="3.0"/><circle cx="928.9" cy="557.4" r="8.9" fill="#ff0000" stroke="#000" stroke-width="3.0"/><circle cx="923.1" cy="554.6" r="8.9" fill="#ff0000" stroke="#000" stroke-width="3.0"/><circle cx="912.5" cy="569.8" r="8.9" fill="#ff0000" stroke="#000" stroke-width="3.0"/><circle cx="910.3" cy="565.6" r="8.9" fill="#ff0000" stroke="#000" stroke-width="3.0"/><circle cx="921.2" cy="569.7" r="8.9" fill="#ff0000" stroke="#000" stroke-width="3.0"/><circle cx="921.2" cy="567.5" r="8.9" fill="#ff0000" stroke="#000" stroke-width="3.0"/><circle cx="902.4" cy="532.4" r="8.9" fill="#ff0000" stroke="#000" stroke-width="3.0"/><circle cx="907.2" cy="530.1" r="8.9" fill="#ff0000" stroke="#000" stroke-width="3.0"/><circle cx="902.3" cy="544.7" r="8.9" fill="#ff0000" stroke="#000" stroke-width="3.0"/><circle cx="902.7" cy="545.8" r="8.9" fill="#ff0000" stroke="#000" stroke-width="3.0"/><circle cx="917.2" cy="544.9" r="8.9" fill="#ff0000" stroke="#000" stroke-width="3.0"/><circle cx="918.7" cy="539.6" r="8.9" fill="#ff0000" stroke="#000" stroke-width="3.0"/><circle cx="930.1" cy="532.3" r="8.9" fill="#ff0000" stroke="#000" stroke-width="3.0"/><circle cx="932.8" cy="531.1" r="8.9" fill="#ff0000" stroke="#000" stroke-width="3.0"/><circle cx="928.9" cy="511.0" r="8.9" fill="#ff0000" stroke="#000" stroke-width="3.0"/><circle cx="930.0" cy="513.9" r="8.9" fill="#ff0000" stroke="#000" stroke-width="3.0"/><circle cx="926.0" cy="542.0" r="8.9" fill="#ff0000" stroke="#000" stroke-width="3.0"/><circle cx="931.0" cy="538.2" r="8.9" fill="#ff0000" stroke="#000" stroke-width="3.0"/><circle cx="908.1" cy="562.2" r="8.9" fill="#ff0000" stroke="#000" stroke-width="3.0"/><circle cx="907.9" cy="559.6" r="8.9" fill="#ff0000" stroke="#000" stroke-width="3.0"/><circle cx="927.2" cy="494.4" r="8.9" fill="#ff0000" stroke="#000" stroke-width="3.0"/><circle cx="931.0" cy="495.5" r="8.9" fill="#ff0000" stroke="#000" stroke-width="3.0"/><circle cx="929.2" cy="504.6" r="8.9" fill="#ff0000" stroke="#000" stroke-width="3.0"/><circle cx="928.7" cy="502.3" r="8.9" fill="#ff0000" stroke="#000" stroke-width="3.0"/><circle cx="917.6" cy="532.0" r="8.9" fill="#ff0000" stroke="#000" stroke-width="3.0"/><circle cx="918.7" cy="532.6" r="8.9" fill="#ff0000" stroke="#000" stroke-width="3.0"/><circle cx="933.5" cy="522.6" r="8.9" fill="#ff0000" stroke="#000" stroke-width="3.0"/><circle cx="935.1" cy="522.1" r="8.9" fill="#ff0000" stroke="#000" stroke-width="3.0"/><circle cx="911.2" cy="558.7" r="8.9" fill="#ff0000" stroke="#000" stroke-width="3.0"/><circle cx="914.3" cy="557.9" r="8.9" fill="#ff0000" stroke="#000" stroke-width="3.0"/><circle cx="925.8" cy="547.5" r="8.9" fill="#ff0000" stroke="#000" stroke-width="3.0"/><circle cx="927.6" cy="545.3" r="8.9" fill="#ff0000" stroke="#000" stroke-width="3.0"/><circle cx="915.2" cy="520.6" r="8.9" fill="#ff0000" stroke="#000" stroke-width="3.0"/><circle cx="947.4" cy="530.8" r="8.9" fill="#ff0000" stroke="#000" stroke-width="3.0"/><circle cx="909.6" cy="549.7" r="8.9" fill="#ff0000" stroke="#000" stroke-width="3.0"/><circle cx="926.0" cy="554.8" r="8.9" fill="#ff0000" stroke="#000" stroke-width="3.0"/><circle cx="910.6" cy="567.0" r="8.9" fill="#ff0000" stroke="#000" stroke-width="3.0"/><circle cx="922.9" cy="567.0" r="8.9" fill="#ff0000" stroke="#000" stroke-width="3.0"/><circle cx="904.5" cy="532.3" r="8.9" fill="#ff0000" stroke="#000" stroke-width="3.0"/><circle cx="900.4" cy="544.6" r="8.9" fill="#ff0000" stroke="#000" stroke-width="3.0"/><circle cx="918.8" cy="542.5" r="8.9" fill="#ff0000" stroke="#000" stroke-width="3.0"/><circle cx="933.1" cy="532.3" r="8.9" fill="#ff0000" stroke="#000" stroke-width="3.0"/><circle cx="931.1" cy="511.9" r="8.9" fill="#ff0000" stroke="#000" stroke-width="3.0"/><circle cx="929.0" cy="540.5" r="8.9" fill="#ff0000" stroke="#000" stroke-width="3.0"/><circle cx="905.5" cy="560.9" r="8.9" fill="#ff0000" stroke="#000" stroke-width="3.0"/><circle cx="928.0" cy="495.0" r="8.9" fill="#ff0000" stroke="#000" stroke-width="3.0"/><circle cx="930.0" cy="505.0" r="8.9" fill="#ff0000" stroke="#000" stroke-width="3.0"/><circle cx="920.0" cy="530.0" r="8.9" fill="#ff0000" stroke="#000" stroke-width="3.0"/><circle cx="935.0" cy="524.0" r="8.9" fill="#ff0000" stroke="#000" stroke-width="3.0"/><circle cx="912.0" cy="556.0" r="8.9" fill="#ff0000" stroke="#000" stroke-width="3.0"/><circle cx="925.0" cy="545.0" r="8.9" fill="#ff0000" stroke="#000" stroke-width="3.0"/></g>
<g clip-path="url(#cb)"><circle cx="897.3" cy="415.7" r="8.9" fill="#0000ff" stroke="#000" stroke-width="3.0"/><circle cx="897.4" cy="418.1" r="8.9" fill="#0000ff" stroke="#000" stroke-width="3.0"/><circle cx="898.4" cy="432.6" r="8.9" fill="#0000ff" stroke="#000" stroke-width="3.0"/><circle cx="895.6" cy="429.0" r="8.9" fill="#0000ff" stroke="#000" stroke-width="3.0"/><circle cx="889.1" cy="433.3" r="8.9" fill="#0000ff" stroke="#000" stroke-width="3.0"/><circle cx="886.3" cy="434.6" r="8.9" fill="#0000ff" stroke="#000" stroke-width="3.0"/><circle cx="876.7" cy="442.6" r="8.9" fill="#0000ff" stroke="#000" stroke-width="3.0"/><circle cx="880.8" cy="439.8" r="8.9" fill="#0000ff" stroke="#000" stroke-width="3.0"/><circle cx="894.0" cy="445.7" r="8.9" fill="#0000ff" stroke="#000" stroke-width="3.0"/><circle cx="893.4" cy="446.3" r="8.9" fill="#0000ff" stroke="#000" stroke-width="3.0"/><circle cx="868.3" cy="452.5" r="8.9" fill="#0000ff" stroke="#000" stroke-width="3.0"/><circle cx="868.5" cy="456.9" r="8.9" fill="#0000ff" stroke="#000" stroke-width="3.0"/><circle cx="881.7" cy="462.3" r="8.9" fill="#0000ff" stroke="#000" stroke-width="3.0"/><circle cx="884.1" cy="467.0" r="8.9" fill="#0000ff" stroke="#000" stroke-width="3.0"/><circle cx="865.3" cy="467.4" r="8.9" fill="#0000ff" stroke="#000" stroke-width="3.0"/><circle cx="863.8" cy="467.1" r="8.9" fill="#0000ff" stroke="#000" stroke-width="3.0"/><circle cx="882.7" cy="474.7" r="8.9" fill="#0000ff" stroke="#000" stroke-width="3.0"/><circle cx="882.0" cy="475.8" r="8.9" fill="#0000ff" stroke="#000" stroke-width="3.0"/><circle cx="872.6" cy="489.0" r="8.9" fill="#0000ff" stroke="#000" stroke-width="3.0"/><circle cx="873.7" cy="486.2" r="8.9" fill="#0000ff" stroke="#000" stroke-width="3.0"/><circle cx="865.1" cy="501.0" r="8.9" fill="#0000ff" stroke="#000" stroke-width="3.0"/><circle cx="864.9" cy="499.9" r="8.9" fill="#0000ff" stroke="#000" stroke-width="3.0"/><circle cx="859.2" cy="491.1" r="8.9" fill="#0000ff" stroke="#000" stroke-width="3.0"/><circle cx="864.6" cy="490.2" r="8.9" fill="#0000ff" stroke="#000" stroke-width="3.0"/><circle cx="895.0" cy="455.3" r="8.9" fill="#0000ff" stroke="#000" stroke-width="3.0"/><circle cx="897.2" cy="452.8" r="8.9" fill="#0000ff" stroke="#000" stroke-width="3.0"/><circle cx="878.6" cy="448.5" r="8.9" fill="#0000ff" stroke="#000" stroke-width="3.0"/><circle cx="879.4" cy="449.7" r="8.9" fill="#0000ff" stroke="#000" stroke-width="3.0"/><circle cx="890.7" cy="462.1" r="8.9" fill="#0000ff" stroke="#000" stroke-width="3.0"/><circle cx="890.2" cy="457.1" r="8.9" fill="#0000ff" stroke="#000" stroke-width="3.0"/><circle cx="872.2" cy="471.3" r="8.9" fill="#0000ff" stroke="#000" stroke-width="3.0"/><circle cx="877.4" cy="469.8" r="8.9" fill="#0000ff" stroke="#000" stroke-width="3.0"/><circle cx="878.5" cy="475.0" r="8.9" fill="#0000ff" stroke="#000" stroke-width="3.0"/><circle cx="877.3" cy="480.6" r="8.9" fill="#0000ff" stroke="#000" stroke-width="3.0"/><circle cx="872.0" cy="482.1" r="8.9" fill="#0000ff" stroke="#000" stroke-width="3.0"/><circle cx="872.8" cy="478.5" r="8.9" fill="#0000ff" stroke="#000" stroke-width="3.0"/><circle cx="881.7" cy="437.9" r="8.9" fill="#0000ff" stroke="#000" stroke-width="3.0"/><circle cx="884.1" cy="441.1" r="8.9" fill="#0000ff" stroke="#000" stroke-width="3.0"/><circle cx="892.6" cy="437.3" r="8.9" fill="#0000ff" stroke="#000" stroke-width="3.0"/><circle cx="890.9" cy="437.6" r="8.9" fill="#0000ff" stroke="#000" stroke-width="3.0"/><circle cx="976.5" cy="432.0" r="8.9" fill="#0000ff" stroke="#000" stroke-width="3.0"/><circle cx="974.0" cy="433.4" r="8.9" fill="#0000ff" stroke="#000" stroke-width="3.0"/><circle cx="955.0" cy="444.5" r="8.9" fill="#0000ff" stroke="#000" stroke-width="3.0"/><circle cx="957.5" cy="440.8" r="8.9" fill="#0000ff" stroke="#000" stroke-width="3.0"/><circle cx="959.5" cy="448.1" r="8.9" fill="#0000ff" stroke="#000" stroke-width="3.0"/><circle cx="962.5" cy="450.8" r="8.9" fill="#0000ff" stroke="#000" stroke-width="3.0"/><circle cx="978.8" cy="446.0" r="8.9" fill="#0000ff" stroke="#000" stroke-width="3.0"/><circle cx="981.2" cy="449.1" r="8.9" fill="#0000ff" stroke="#000" stroke-width="3.0"/><circle cx="985.5" cy="453.0" r="8.9" fill="#0000ff" stroke="#000" stroke-width="3.0"/><circle cx="986.8" cy="451.8" r="8.9" fill="#0000ff" stroke="#000" stroke-width="3.0"/><circle cx="950.3" cy="453.5" r="8.9" fill="#0000ff" stroke="#000" stroke-width="3.0"/><circle cx="954.3" cy="454.6" r="8.9" fill="#0000ff" stroke="#000" stroke-width="3.0"/><circle cx="965.0" cy="466.9" r="8.9" fill="#0000ff" stroke="#000" stroke-width="3.0"/><circle cx="961.1" cy="465.5" r="8.9" fill="#0000ff" stroke="#000" stroke-width="3.0"/><circle cx="980.8" cy="468.2" r="8.9" fill="#0000ff" stroke="#000" stroke-width="3.0"/><circle cx="976.8" cy="464.1" r="8.9" fill="#0000ff" stroke="#000" stroke-width="3.0"/><circle cx="949.4" cy="477.2" r="8.9" fill="#0000ff" stroke="#000" stroke-width="3.0"/><circle cx="948.9" cy="474.7" r="8.9" fill="#0000ff" stroke="#000" stroke-width="3.0"/><circle cx="983.1" cy="483.9" r="8.9" fill="#0000ff" stroke="#000" stroke-width="3.0"/><circle cx="980.5" cy="478.5" r="8.9" fill="#0000ff" stroke="#000" stroke-width="3.0"/><circle cx="956.6" cy="491.0" r="8.9" fill="#0000ff" stroke="#000" stroke-width="3.0"/><circle cx="958.7" cy="489.7" r="8.9" fill="#0000ff" stroke="#000" stroke-width="3.0"/><circle cx="942.0" cy="497.0" r="8.9" fill="#0000ff" stroke="#000" stroke-width="3.0"/><circle cx="940.2" cy="493.8" r="8.9" fill="#0000ff" stroke="#000" stroke-width="3.0"/><circle cx="939.0" cy="506.7" r="8.9" fill="#0000ff" stroke="#000" stroke-width="3.0"/><circle cx="938.1" cy="506.2" r="8.9" fill="#0000ff" stroke="#000" stroke-width="3.0"/><circle cx="955.9" cy="511.5" r="8.9" fill="#0000ff" stroke="#000" stroke-width="3.0"/><circle cx="956.4" cy="512.6" r="8.9" fill="#0000ff" stroke="#000" stroke-width="3.0"/><circle cx="968.8" cy="504.9" r="8.9" fill="#0000ff" stroke="#000" stroke-width="3.0"/><circle cx="967.1" cy="506.3" r="8.9" fill="#0000ff" stroke="#000" stroke-width="3.0"/><circle cx="979.0" cy="492.1" r="8.9" fill="#0000ff" stroke="#000" stroke-width="3.0"/><circle cx="975.9" cy="488.8" r="8.9" fill="#0000ff" stroke="#000" stroke-width="3.0"/><circle cx="970.2" cy="480.0" r="8.9" fill="#0000ff" stroke="#000" stroke-width="3.0"/><circle cx="969.8" cy="474.5" r="8.9" fill="#0000ff" stroke="#000" stroke-width="3.0"/><circle cx="930.5" cy="482.7" r="8.9" fill="#0000ff" stroke="#000" stroke-width="3.0"/><circle cx="935.5" cy="485.6" r="8.9" fill="#0000ff" stroke="#000" stroke-width="3.0"/><circle cx="946.8" cy="488.4" r="8.9" fill="#0000ff" stroke="#000" stroke-width="3.0"/><circle cx="948.0" cy="484.4" r="8.9" fill="#0000ff" stroke="#000" stroke-width="3.0"/><circle cx="963.1" cy="460.6" r="8.9" fill="#0000ff" stroke="#000" stroke-width="3.0"/><circle cx="966.5" cy="455.2" r="8.9" fill="#0000ff" stroke="#000" stroke-width="3.0"/><circle cx="971.0" cy="469.3" r="8.9" fill="#0000ff" stroke="#000" stroke-width="3.0"/><circle cx="969.2" cy="469.0" r="8.9" fill="#0000ff" stroke="#000" stroke-width="3.0"/><circle cx="953.0" cy="467.0" r="8.9" fill="#0000ff" stroke="#000" stroke-width="3.0"/><circle cx="953.7" cy="469.1" r="8.9" fill="#0000ff" stroke="#000" stroke-width="3.0"/><circle cx="962.7" cy="477.7" r="8.9" fill="#0000ff" stroke="#000" stroke-width="3.0"/><circle cx="962.8" cy="478.2" r="8.9" fill="#0000ff" stroke="#000" stroke-width="3.0"/><circle cx="949.1" cy="496.9" r="8.9" fill="#0000ff" stroke="#000" stroke-width="3.0"/><circle cx="951.9" cy="494.6" r="8.9" fill="#0000ff" stroke="#000" stroke-width="3.0"/><circle cx="962.3" cy="494.8" r="8.9" fill="#0000ff" stroke="#000" stroke-width="3.0"/><circle cx="964.2" cy="497.5" r="8.9" fill="#0000ff" stroke="#000" stroke-width="3.0"/><circle cx="943.2" cy="499.2" r="8.9" fill="#0000ff" stroke="#000" stroke-width="3.0"/><circle cx="947.4" cy="497.2" r="8.9" fill="#0000ff" stroke="#000" stroke-width="3.0"/><circle cx="974.5" cy="501.9" r="8.9" fill="#0000ff" stroke="#000" stroke-width="3.0"/><circle cx="976.6" cy="497.2" r="8.9" fill="#0000ff" stroke="#000" stroke-width="3.0"/><circle cx="896.0" cy="418.4" r="8.9" fill="#0000ff" stroke="#000" stroke-width="3.0"/><circle cx="896.9" cy="431.7" r="8.9" fill="#0000ff" stroke="#000" stroke-width="3.0"/><circle cx="886.5" cy="435.5" r="8.9" fill="#0000ff" stroke="#000" stroke-width="3.0"/><circle cx="877.9" cy="441.2" r="8.9" fill="#0000ff" stroke="#000" stroke-width="3.0"/><circle cx="893.1" cy="446.9" r="8.9" fill="#0000ff" stroke="#000" stroke-width="3.0"/><circle cx="870.3" cy="454.5" r="8.9" fill="#0000ff" stroke="#000" stroke-width="3.0"/><circle cx="881.7" cy="464.0" r="8.9" fill="#0000ff" stroke="#000" stroke-width="3.0"/><circle cx="865.6" cy="469.6" r="8.9" fill="#0000ff" stroke="#000" stroke-width="3.0"/><circle cx="883.6" cy="477.2" r="8.9" fill="#0000ff" stroke="#000" stroke-width="3.0"/><circle cx="872.2" cy="486.7" r="8.9" fill="#0000ff" stroke="#000" stroke-width="3.0"/><circle cx="865.6" cy="500.9" r="8.9" fill="#0000ff" stroke="#000" stroke-width="3.0"/><circle cx="861.8" cy="492.4" r="8.9" fill="#0000ff" stroke="#000" stroke-width="3.0"/><circle cx="895.0" cy="454.5" r="8.9" fill="#0000ff" stroke="#000" stroke-width="3.0"/><circle cx="880.0" cy="450.0" r="8.9" fill="#0000ff" stroke="#000" stroke-width="3.0"/><circle cx="888.0" cy="460.0" r="8.9" fill="#0000ff" stroke="#000" stroke-width="3.0"/><circle cx="875.0" cy="470.0" r="8.9" fill="#0000ff" stroke="#000" stroke-width="3.0"/><circle cx="878.0" cy="478.0" r="8.9" fill="#0000ff" stroke="#000" stroke-width="3.0"/><circle cx="870.0" cy="480.0" r="8.9" fill="#0000ff" stroke="#000" stroke-width="3.0"/><circle cx="884.0" cy="440.0" r="8.9" fill="#0000ff" stroke="#000" stroke-width="3.0"/><circle cx="890.0" cy="436.0" r="8.9" fill="#0000ff" stroke="#000" stroke-width="3.0"/><circle cx="976.8" cy="431.7" r="8.9" fill="#0000ff" stroke="#000" stroke-width="3.0"/><circle cx="956.6" cy="442.0" r="8.9" fill="#0000ff" stroke="#000" stroke-width="3.0"/><circle cx="961.7" cy="449.6" r="8.9" fill="#0000ff" stroke="#000" stroke-width="3.0"/><circle cx="981.1" cy="448.6" r="8.9" fill="#0000ff" stroke="#000" stroke-width="3.0"/><circle cx="986.2" cy="454.7" r="8.9" fill="#0000ff" stroke="#000" stroke-width="3.0"/><circle cx="951.5" cy="453.7" r="8.9" fill="#0000ff" stroke="#000" stroke-width="3.0"/><circle cx="962.7" cy="467.0" r="8.9" fill="#0000ff" stroke="#000" stroke-width="3.0"/><circle cx="978.0" cy="467.0" r="8.9" fill="#0000ff" stroke="#000" stroke-width="3.0"/><circle cx="949.4" cy="476.2" r="8.9" fill="#0000ff" stroke="#000" stroke-width="3.0"/><circle cx="982.1" cy="481.3" r="8.9" fill="#0000ff" stroke="#000" stroke-width="3.0"/><circle cx="957.6" cy="491.5" r="8.9" fill="#0000ff" stroke="#000" stroke-width="3.0"/><circle cx="940.2" cy="495.6" r="8.9" fill="#0000ff" stroke="#000" stroke-width="3.0"/><circle cx="936.2" cy="507.8" r="8.9" fill="#0000ff" stroke="#000" stroke-width="3.0"/><circle cx="957.6" cy="509.9" r="8.9" fill="#0000ff" stroke="#000" stroke-width="3.0"/><circle cx="968.8" cy="506.8" r="8.9" fill="#0000ff" stroke="#000" stroke-width="3.0"/><circle cx="978.0" cy="489.4" r="8.9" fill="#0000ff" stroke="#000" stroke-width="3.0"/><circle cx="971.9" cy="477.2" r="8.9" fill="#0000ff" stroke="#000" stroke-width="3.0"/><circle cx="933.1" cy="483.3" r="8.9" fill="#0000ff" stroke="#000" stroke-width="3.0"/><circle cx="945.4" cy="485.4" r="8.9" fill="#0000ff" stroke="#000" stroke-width="3.0"/><circle cx="965.0" cy="458.0" r="8.9" fill="#0000ff" stroke="#000" stroke-width="3.0"/><circle cx="970.0" cy="470.0" r="8.9" fill="#0000ff" stroke="#000" stroke-width="3.0"/><circle cx="955.0" cy="470.0" r="8.9" fill="#0000ff" stroke="#000" stroke-width="3.0"/><circle cx="960.0" cy="480.0" r="8.9" fill="#0000ff" stroke="#000" stroke-width="3.0"/><circle cx="950.0" cy="495.0" r="8.9" fill="#0000ff" stroke="#000" stroke-width="3.0"/><circle cx="965.0" cy="495.0" r="8.9" fill="#0000ff" stroke="#000" stroke-width="3.0"/><circle cx="945.0" cy="500.0" r="8.9" fill="#0000ff" stroke="#000" stroke-width="3.0"/><circle cx="975.0" cy="500.0" r="8.9" fill="#0000ff" stroke="#000" stroke-width="3.0"/></g>
<rect x="829.5" y="75.7" width="536.0" height="566.8" stroke="#000" stroke-width="2.0" fill="none"/>
<line x1="819.5" y1="75.7" x2="829.5" y2="75.7" stroke="#000" stroke-width="2.0"/>
<text transform="translate(761.47,87.90) scale(1.0410,1)" font-size="32.1">0.4</text>
<line x1="819.5" y1="189.1" x2="829.5" y2="189.1" stroke="#000" stroke-width="2.0"/>
<text transform="translate(762.22,201.26) scale(1.0410,1)" font-size="32.1">0.2</text>
<line x1="819.5" y1="302.4" x2="829.5" y2="302.4" stroke="#000" stroke-width="2.0"/>
<text transform="translate(761.80,314.62) scale(1.0410,1)" font-size="32.1">0.0</text>
<line x1="819.5" y1="415.8" x2="829.5" y2="415.8" stroke="#000" stroke-width="2.0"/>
<text transform="translate(737.94,427.98) scale(1.1191,1)" font-size="32.1">−0.2</text>
<line x1="819.5" y1="529.1" x2="829.5" y2="529.1" stroke="#000" stroke-width="2.0"/>
<text transform="translate(737.13,541.34) scale(1.1191,1)" font-size="32.1">−0.4</text>
<line x1="819.5" y1="642.5" x2="829.5" y2="642.5" stroke="#000" stroke-width="2.0"/>
<text transform="translate(737.67,654.70) scale(1.1191,1)" font-size="32.1">−0.6</text>
<line x1="874.1" y1="642.5" x2="874.1" y2="652.0" stroke="#000" stroke-width="2.0"/>
<text transform="translate(837.29,686.20) scale(1.1555,1)" font-size="32.1">−1.0</text>
<line x1="985.8" y1="642.5" x2="985.8" y2="652.0" stroke="#000" stroke-width="2.0"/>
<text transform="translate(949.03,686.20) scale(1.1555,1)" font-size="32.1">−0.5</text>
<line x1="1097.5" y1="642.5" x2="1097.5" y2="652.0" stroke="#000" stroke-width="2.0"/>
<text transform="translate(1074.23,686.20) scale(1.0410,1)" font-size="32.1">0.0</text>
<line x1="1209.2" y1="642.5" x2="1209.2" y2="652.0" stroke="#000" stroke-width="2.0"/>
<text transform="translate(1185.98,686.20) scale(1.0410,1)" font-size="32.1">0.5</text>
<line x1="1320.9" y1="642.5" x2="1320.9" y2="652.0" stroke="#000" stroke-width="2.0"/>
<text transform="translate(1297.05,686.20) scale(1.0410,1)" font-size="32.1">1.0</text>
<text x="894.5" y="740.3" font-size="50.4" textLength="407.6" lengthAdjust="spacingAndGlyphs">MBIS Charges [e]</text>
<text x="716.2" y="359.0" font-size="50.4" text-anchor="middle" textLength="373.0" lengthAdjust="spacingAndGlyphs" transform="rotate(-90 716.2 359.0)">LES Charges [e]</text>
<text transform="translate(1187.53,353.00) scale(1.0349,1)" font-size="43">Element</text>
<rect x="1177.1" y="384.9" width="169.4" height="240" rx="6" ry="6" fill="#fff" fill-opacity="0.8" stroke="#d0d0d0" stroke-width="2"/>
<circle cx="1231.2" cy="419.7" r="8.7" fill="#808080" stroke="#000" stroke-width="3.0"/>
<text transform="translate(1300.76,429.90) scale(0.9054,1)" font-size="40.7">C</text>
<circle cx="1231.2" cy="476.4" r="8.7" fill="#ffffff" stroke="#000" stroke-width="3.0"/>
<text transform="translate(1300.06,486.60) scale(0.9960,1)" font-size="40.7">H</text>
<circle cx="1231.2" cy="533.0" r="8.7" fill="#ff0000" stroke="#000" stroke-width="3.0"/>
<text transform="translate(1300.76,543.20) scale(0.9504,1)" font-size="40.7">O</text>
<circle cx="1231.2" cy="589.5" r="8.7" fill="#0000ff" stroke="#000" stroke-width="3.0"/>
<text transform="translate(1300.06,599.70) scale(0.9960,1)" font-size="40.7">N</text>
<g fill="#1f77b4" clip-path="url(#cc)"><circle cx="153.9" cy="1246.9" r="9.2"/><circle cx="205.4" cy="1200.8" r="9.2"/><circle cx="212.8" cy="1191.6" r="9.2"/><circle cx="222.0" cy="1184.3" r="9.2"/><circle cx="216.5" cy="1195.3" r="9.2"/><circle cx="236.8" cy="1165.8" r="9.2"/><circle cx="247.8" cy="1165.8" r="9.2"/><circle cx="253.3" cy="1164.0" r="9.2"/><circle cx="244.1" cy="1169.5" r="9.2"/><circle cx="255.2" cy="1147.4" r="9.2"/><circle cx="260.7" cy="1143.7" r="9.2"/><circle cx="262.5" cy="1125.3" r="9.2"/><circle cx="269.9" cy="1127.2" r="9.2"/><circle cx="275.4" cy="1121.7" r="9.2"/><circle cx="264.4" cy="1132.7" r="9.2"/><circle cx="286.5" cy="1112.4" r="9.2"/><circle cx="297.5" cy="1116.1" r="9.2"/><circle cx="297.5" cy="1097.7" r="9.2"/><circle cx="306.7" cy="1094.0" r="9.2"/><circle cx="312.3" cy="1105.1" r="9.2"/><circle cx="304.9" cy="1119.8" r="9.2"/><circle cx="308.6" cy="1103.2" r="9.2"/><circle cx="314.1" cy="1092.2" r="9.2"/><circle cx="297.5" cy="1123.5" r="9.2"/><circle cx="292.0" cy="1108.8" r="9.2"/><circle cx="327.0" cy="1049.8" r="9.2"/><circle cx="330.7" cy="1064.6" r="9.2"/><circle cx="341.7" cy="1071.9" r="9.2"/><circle cx="345.4" cy="1049.8" r="9.2"/><circle cx="350.9" cy="1038.8" r="9.2"/><circle cx="341.7" cy="1057.2" r="9.2"/><circle cx="336.2" cy="1066.4" r="9.2"/><circle cx="349.1" cy="1042.5" r="9.2"/><circle cx="360.1" cy="1027.7" r="9.2"/><circle cx="367.5" cy="1042.5" r="9.2"/><circle cx="374.9" cy="1031.4" r="9.2"/><circle cx="385.9" cy="1031.4" r="9.2"/><circle cx="371.2" cy="1020.4" r="9.2"/><circle cx="380.4" cy="1024.0" r="9.2"/><circle cx="363.8" cy="1035.1" r="9.2"/><circle cx="385.9" cy="998.3" r="9.2"/><circle cx="393.3" cy="1009.3" r="9.2"/><circle cx="400.7" cy="1013.0" r="9.2"/><circle cx="404.3" cy="983.5" r="9.2"/><circle cx="408.0" cy="998.3" r="9.2"/><circle cx="415.4" cy="998.3" r="9.2"/><circle cx="400.7" cy="987.2" r="9.2"/><circle cx="389.6" cy="1001.9" r="9.2"/><circle cx="406.2" cy="1013.0" r="9.2"/><circle cx="397.0" cy="996.4" r="9.2"/><circle cx="426.4" cy="987.2" r="9.2"/><circle cx="430.1" cy="968.8" r="9.2"/><circle cx="437.5" cy="965.1" r="9.2"/><circle cx="444.9" cy="972.5" r="9.2"/><circle cx="433.8" cy="950.4" r="9.2"/><circle cx="441.2" cy="946.7" r="9.2"/><circle cx="426.4" cy="979.8" r="9.2"/><circle cx="437.5" cy="976.2" r="9.2"/><circle cx="446.7" cy="965.1" r="9.2"/><circle cx="448.5" cy="935.6" r="9.2"/><circle cx="459.6" cy="950.4" r="9.2"/><circle cx="470.6" cy="939.3" r="9.2"/><circle cx="478.0" cy="924.6" r="9.2"/><circle cx="455.9" cy="943.0" r="9.2"/><circle cx="465.1" cy="933.8" r="9.2"/><circle cx="452.2" cy="939.3" r="9.2"/><circle cx="459.6" cy="939.3" r="9.2"/><circle cx="485.4" cy="904.3" r="9.2"/><circle cx="496.4" cy="902.5" r="9.2"/><circle cx="500.1" cy="889.6" r="9.2"/><circle cx="507.5" cy="878.6" r="9.2"/><circle cx="514.8" cy="882.2" r="9.2"/><circle cx="524.0" cy="869.3" r="9.2"/><circle cx="525.9" cy="874.9" r="9.2"/><circle cx="505.6" cy="884.1" r="9.2"/><circle cx="492.7" cy="898.8" r="9.2"/><circle cx="553.5" cy="843.6" r="9.2"/><circle cx="553.5" cy="852.8" r="9.2"/><circle cx="566.4" cy="830.7" r="9.2"/><circle cx="573.8" cy="843.6" r="9.2"/><circle cx="570.1" cy="836.2" r="9.2"/><circle cx="560.9" cy="839.9" r="9.2"/><circle cx="584.8" cy="819.6" r="9.2"/><circle cx="603.2" cy="793.8" r="9.2"/></g>
<line x1="106.3" y1="1297.2" x2="610.5" y2="792.3" stroke="#808080" stroke-width="3.8" stroke-dasharray="14.4 6.8" clip-path="url(#cc)"/>
<rect x="106.3" y="792.3" width="504.2" height="504.9" stroke="#000" stroke-width="2.0" fill="none"/>
<line x1="97.0" y1="864.3" x2="106.3" y2="864.3" stroke="#000" stroke-width="2.0"/>
<text transform="translate(71.20,874.50) scale(1.0400,1)" font-size="27.8">2</text>
<line x1="97.0" y1="1008.6" x2="106.3" y2="1008.6" stroke="#000" stroke-width="2.0"/>
<text transform="translate(70.84,1018.80) scale(1.0400,1)" font-size="27.8">0</text>
<line x1="97.0" y1="1152.9" x2="106.3" y2="1152.9" stroke="#000" stroke-width="2.0"/>
<text transform="translate(61.59,1163.10) scale(1.0400,1)" font-size="27.8">-2</text>
<line x1="97.0" y1="1297.2" x2="106.3" y2="1297.2" stroke="#000" stroke-width="2.0"/>
<text transform="translate(60.94,1307.40) scale(1.0400,1)" font-size="27.8">-4</text>
<line x1="106.1" y1="1297.2" x2="106.1" y2="1306.5" stroke="#000" stroke-width="2.0"/>
<text transform="translate(93.02,1336.30) scale(1.0400,1)" font-size="27.8">-4</text>
<line x1="250.2" y1="1297.2" x2="250.2" y2="1306.5" stroke="#000" stroke-width="2.0"/>
<text transform="translate(237.44,1336.30) scale(1.0400,1)" font-size="27.8">-2</text>
<line x1="394.3" y1="1297.2" x2="394.3" y2="1306.5" stroke="#000" stroke-width="2.0"/>
<text transform="translate(386.24,1336.30) scale(1.0400,1)" font-size="27.8">0</text>
<line x1="538.4" y1="1297.2" x2="538.4" y2="1306.5" stroke="#000" stroke-width="2.0"/>
<text transform="translate(530.38,1336.30) scale(1.0400,1)" font-size="27.8">2</text>
<text transform="translate(182.90,1391.40) scale(1.0398,1)" font-size="45.5">DFT Dipole [e-<tspan font-style="italic">Å</tspan>]</text>
<text transform="translate(40.20,1218.35) rotate(-90) scale(0.9930,1)" font-size="47">LES Dipole [e-<tspan font-style="italic">Å</tspan>]</text>
<text transform="translate(379.15,1179.85) scale(1.2807,1)" font-size="45.21" font-weight="bold">μ</text>
<text transform="translate(421.32,1179.39) scale(1.4790,1)" font-size="38.14">=</text>
<text transform="translate(459.60,1179.01) scale(1.1119,1)" font-size="61.11">∑</text>
<text transform="translate(472.02,1128.40) scale(0.9689,1)" font-size="30.25" font-style="italic">N</text>
<text transform="translate(480.41,1222.30) scale(1.0415,1)" font-size="31.31" font-style="italic">i</text>
<text transform="translate(503.11,1179.23) scale(1.0596,1)" font-size="43.22" font-style="italic">q</text>
<text transform="translate(530.50,1186.30) scale(1.1134,1)" font-size="30.07" font-style="italic">i</text>
<text transform="translate(538.73,1179.70) scale(1.3169,1)" font-size="44.09" font-weight="bold">r</text>
<text transform="translate(561.97,1186.30) scale(0.9543,1)" font-size="30.07" font-style="italic">i</text>
<text transform="translate(362.18,1266.50) scale(0.8295,1)" font-size="44.95" font-style="italic">R</text>
<text transform="translate(394.84,1249.80) scale(1.0618,1)" font-size="31.25">2</text>
<text transform="translate(429.82,1266.21) scale(1.3678,1)" font-size="41.24">=</text>
<text transform="translate(477.97,1266.50) scale(1.0588,1)" font-size="45.6">0.991</text>
<g fill="#1f77b4" clip-path="url(#cd)"><circle cx="1213.4" cy="956.2" r="9.2"/><circle cx="1171.4" cy="968.2" r="9.2"/><circle cx="1195.4" cy="968.2" r="9.2"/><circle cx="1165.4" cy="974.2" r="9.2"/><circle cx="1171.4" cy="974.2" r="9.2"/><circle cx="1177.4" cy="974.2" r="9.2"/><circle cx="1183.4" cy="974.2" r="9.2"/><circle cx="1159.4" cy="980.2" r="9.2"/><circle cx="1165.4" cy="980.2" r="9.2"/><circle cx="1171.4" cy="980.2" r="9.2"/><circle cx="1177.4" cy="980.2" r="9.2"/><circle cx="1147.4" cy="986.2" r="9.2"/><circle cx="1153.4" cy="986.2" r="9.2"/><circle cx="1159.4" cy="986.2" r="9.2"/><circle cx="1165.4" cy="986.2" r="9.2"/><circle cx="1171.4" cy="986.2" r="9.2"/><circle cx="1177.4" cy="986.2" r="9.2"/><circle cx="1141.4" cy="992.2" r="9.2"/><circle cx="1147.4" cy="992.2" r="9.2"/><circle cx="1153.4" cy="992.2" r="9.2"/><circle cx="1159.4" cy="992.2" r="9.2"/><circle cx="1165.4" cy="992.2" r="9.2"/><circle cx="1171.4" cy="992.2" r="9.2"/><circle cx="1141.4" cy="998.2" r="9.2"/><circle cx="1147.4" cy="998.2" r="9.2"/><circle cx="1153.4" cy="998.2" r="9.2"/><circle cx="1159.4" cy="998.2" r="9.2"/><circle cx="1165.4" cy="998.2" r="9.2"/><circle cx="1135.4" cy="1004.2" r="9.2"/><circle cx="1141.4" cy="1004.2" r="9.2"/><circle cx="1147.4" cy="1004.2" r="9.2"/><circle cx="1153.4" cy="1004.2" r="9.2"/><circle cx="1159.4" cy="1004.2" r="9.2"/><circle cx="1165.4" cy="1004.2" r="9.2"/><circle cx="1135.4" cy="1010.2" r="9.2"/><circle cx="1141.4" cy="1010.2" r="9.2"/><circle cx="1147.4" cy="1010.2" r="9.2"/><circle cx="1153.4" cy="1010.2" r="9.2"/><circle cx="1159.4" cy="1010.2" r="9.2"/><circle cx="1129.4" cy="1016.2" r="9.2"/><circle cx="1135.4" cy="1016.2" r="9.2"/><circle cx="1141.4" cy="1016.2" r="9.2"/><circle cx="1147.4" cy="1016.2" r="9.2"/><circle cx="1153.4" cy="1016.2" r="9.2"/><circle cx="1159.4" cy="1016.2" r="9.2"/><circle cx="1129.4" cy="1022.2" r="9.2"/><circle cx="1135.4" cy="1022.2" r="9.2"/><circle cx="1141.4" cy="1022.2" r="9.2"/><circle cx="1147.4" cy="1022.2" r="9.2"/><circle cx="1153.4" cy="1022.2" r="9.2"/><circle cx="1111.4" cy="1028.2" r="9.2"/><circle cx="1117.4" cy="1028.2" r="9.2"/><circle cx="1123.4" cy="1028.2" r="9.2"/><circle cx="1129.4" cy="1028.2" r="9.2"/><circle cx="1135.4" cy="1028.2" r="9.2"/><circle cx="1141.4" cy="1028.2" r="9.2"/><circle cx="1147.4" cy="1028.2" r="9.2"/><circle cx="1153.4" cy="1028.2" r="9.2"/><circle cx="1105.4" cy="1034.2" r="9.2"/><circle cx="1111.4" cy="1034.2" r="9.2"/><circle cx="1117.4" cy="1034.2" r="9.2"/><circle cx="1123.4" cy="1034.2" r="9.2"/><circle cx="1129.4" cy="1034.2" r="9.2"/><circle cx="1135.4" cy="1034.2" r="9.2"/><circle cx="1141.4" cy="1034.2" r="9.2"/><circle cx="1093.4" cy="1040.2" r="9.2"/><circle cx="1099.4" cy="1040.2" r="9.2"/><circle cx="1105.4" cy="1040.2" r="9.2"/><circle cx="1111.4" cy="1040.2" r="9.2"/><circle cx="1117.4" cy="1040.2" r="9.2"/><circle cx="1123.4" cy="1040.2" r="9.2"/><circle cx="1129.4" cy="1040.2" r="9.2"/><circle cx="1135.4" cy="1040.2" r="9.2"/><circle cx="1087.4" cy="1046.2" r="9.2"/><circle cx="1093.4" cy="1046.2" r="9.2"/><circle cx="1099.4" cy="1046.2" r="9.2"/><circle cx="1105.4" cy="1046.2" r="9.2"/><circle cx="1111.4" cy="1046.2" r="9.2"/><circle cx="1117.4" cy="1046.2" r="9.2"/><circle cx="1123.4" cy="1046.2" r="9.2"/><circle cx="1129.4" cy="1046.2" r="9.2"/><circle cx="1135.4" cy="1046.2" r="9.2"/><circle cx="1087.4" cy="1052.2" r="9.2"/><circle cx="1093.4" cy="1052.2" r="9.2"/><circle cx="1099.4" cy="1052.2" r="9.2"/><circle cx="1105.4" cy="1052.2" r="9.2"/><circle cx="1111.4" cy="1052.2" r="9.2"/><circle cx="1117.4" cy="1052.2" r="9.2"/><circle cx="1123.4" cy="1052.2" r="9.2"/><circle cx="1129.4" cy="1052.2" r="9.2"/><circle cx="1081.4" cy="1058.2" r="9.2"/><circle cx="1087.4" cy="1058.2" r="9.2"/><circle cx="1093.4" cy="1058.2" r="9.2"/><circle cx="1099.4" cy="1058.2" r="9.2"/><circle cx="1105.4" cy="1058.2" r="9.2"/><circle cx="1111.4" cy="1058.2" r="9.2"/><circle cx="1117.4" cy="1058.2" r="9.2"/><circle cx="1123.4" cy="1058.2" r="9.2"/><circle cx="1075.4" cy="1064.2" r="9.2"/><circle cx="1081.4" cy="1064.2" r="9.2"/><circle cx="1087.4" cy="1064.2" r="9.2"/><circle cx="1093.4" cy="1064.2" r="9.2"/><circle cx="1099.4" cy="1064.2" r="9.2"/><circle cx="1105.4" cy="1064.2" r="9.2"/><circle cx="1111.4" cy="1064.2" r="9.2"/><circle cx="1117.4" cy="1064.2" r="9.2"/><circle cx="1057.4" cy="1070.2" r="9.2"/><circle cx="1063.4" cy="1070.2" r="9.2"/><circle cx="1069.4" cy="1070.2" r="9.2"/><circle cx="1075.4" cy="1070.2" r="9.2"/><circle cx="1081.4" cy="1070.2" r="9.2"/><circle cx="1087.4" cy="1070.2" r="9.2"/><circle cx="1093.4" cy="1070.2" r="9.2"/><circle cx="1099.4" cy="1070.2" r="9.2"/><circle cx="1105.4" cy="1070.2" r="9.2"/><circle cx="1051.4" cy="1076.2" r="9.2"/><circle cx="1057.4" cy="1076.2" r="9.2"/><circle cx="1063.4" cy="1076.2" r="9.2"/><circle cx="1069.4" cy="1076.2" r="9.2"/><circle cx="1075.4" cy="1076.2" r="9.2"/><circle cx="1081.4" cy="1076.2" r="9.2"/><circle cx="1087.4" cy="1076.2" r="9.2"/><circle cx="1093.4" cy="1076.2" r="9.2"/><circle cx="1099.4" cy="1076.2" r="9.2"/><circle cx="1051.4" cy="1082.2" r="9.2"/><circle cx="1057.4" cy="1082.2" r="9.2"/><circle cx="1063.4" cy="1082.2" r="9.2"/><circle cx="1069.4" cy="1082.2" r="9.2"/><circle cx="1075.4" cy="1082.2" r="9.2"/><circle cx="1081.4" cy="1082.2" r="9.2"/><circle cx="1087.4" cy="1082.2" r="9.2"/><circle cx="1093.4" cy="1082.2" r="9.2"/><circle cx="1051.4" cy="1088.2" r="9.2"/><circle cx="1057.4" cy="1088.2" r="9.2"/><circle cx="1063.4" cy="1088.2" r="9.2"/><circle cx="1069.4" cy="1088.2" r="9.2"/><circle cx="1075.4" cy="1088.2" r="9.2"/><circle cx="1081.4" cy="1088.2" r="9.2"/><circle cx="1045.4" cy="1094.2" r="9.2"/><circle cx="1051.4" cy="1094.2" r="9.2"/><circle cx="1057.4" cy="1094.2" r="9.2"/><circle cx="1063.4" cy="1094.2" r="9.2"/><circle cx="1069.4" cy="1094.2" r="9.2"/><circle cx="1039.4" cy="1100.2" r="9.2"/><circle cx="1045.4" cy="1100.2" r="9.2"/><circle cx="1051.4" cy="1100.2" r="9.2"/><circle cx="1057.4" cy="1100.2" r="9.2"/><circle cx="1063.4" cy="1100.2" r="9.2"/><circle cx="1027.4" cy="1106.2" r="9.2"/><circle cx="1033.4" cy="1106.2" r="9.2"/><circle cx="1039.4" cy="1106.2" r="9.2"/><circle cx="1045.4" cy="1106.2" r="9.2"/><circle cx="1051.4" cy="1106.2" r="9.2"/><circle cx="1021.4" cy="1112.2" r="9.2"/><circle cx="1027.4" cy="1112.2" r="9.2"/><circle cx="1033.4" cy="1112.2" r="9.2"/><circle cx="1039.4" cy="1112.2" r="9.2"/><circle cx="1045.4" cy="1112.2" r="9.2"/><circle cx="1051.4" cy="1112.2" r="9.2"/><circle cx="1015.4" cy="1118.2" r="9.2"/><circle cx="1021.4" cy="1118.2" r="9.2"/><circle cx="1027.4" cy="1118.2" r="9.2"/><circle cx="1033.4" cy="1118.2" r="9.2"/><circle cx="1039.4" cy="1118.2" r="9.2"/><circle cx="1045.4" cy="1118.2" r="9.2"/><circle cx="1009.4" cy="1124.2" r="9.2"/><circle cx="1015.4" cy="1124.2" r="9.2"/><circle cx="1021.4" cy="1124.2" r="9.2"/><circle cx="1027.4" cy="1124.2" r="9.2"/><circle cx="1033.4" cy="1124.2" r="9.2"/><circle cx="1039.4" cy="1124.2" r="9.2"/><circle cx="1003.4" cy="1130.2" r="9.2"/><circle cx="1009.4" cy="1130.2" r="9.2"/><circle cx="1015.4" cy="1130.2" r="9.2"/><circle cx="1021.4" cy="1130.2" r="9.2"/><circle cx="1027.4" cy="1130.2" r="9.2"/><circle cx="1033.4" cy="1130.2" r="9.2"/><circle cx="1003.4" cy="1136.2" r="9.2"/><circle cx="1009.4" cy="1136.2" r="9.2"/><circle cx="1015.4" cy="1136.2" r="9.2"/><circle cx="1021.4" cy="1136.2" r="9.2"/><circle cx="979.2" cy="1121.3" r="9.2"/><circle cx="990.4" cy="1127.8" r="9.2"/><circle cx="985.8" cy="1148.9" r="9.2"/><circle cx="1016.6" cy="1104.2" r="9.2"/><circle cx="1014.0" cy="1122.6" r="9.2"/><circle cx="1003.5" cy="1137.0" r="9.2"/><circle cx="1012.7" cy="1152.8" r="9.2"/><circle cx="1003.5" cy="1144.9" r="9.2"/><circle cx="1024.5" cy="1134.4" r="9.2"/><circle cx="1041.6" cy="1139.7" r="9.2"/><circle cx="1057.3" cy="1125.2" r="9.2"/><circle cx="1061.3" cy="1110.8" r="9.2"/><circle cx="1046.8" cy="1063.5" r="9.2"/><circle cx="1040.3" cy="1089.8" r="9.2"/><circle cx="1048.2" cy="1079.3" r="9.2"/><circle cx="1066.5" cy="1058.3" r="9.2"/><circle cx="1073.1" cy="1055.6" r="9.2"/><circle cx="1084.9" cy="1032.0" r="9.2"/><circle cx="1108.5" cy="1016.3" r="9.2"/><circle cx="1081.0" cy="1050.4" r="9.2"/><circle cx="1082.3" cy="1097.7" r="9.2"/><circle cx="1098.0" cy="1093.7" r="9.2"/><circle cx="1100.7" cy="1081.9" r="9.2"/><circle cx="1029.8" cy="1114.7" r="9.2"/><circle cx="1035.0" cy="1127.8" r="9.2"/><circle cx="1021.9" cy="1141.0" r="9.2"/><circle cx="1053.4" cy="1104.2" r="9.2"/><circle cx="1074.4" cy="1081.9" r="9.2"/><circle cx="1087.5" cy="1068.8" r="9.2"/><circle cx="1061.3" cy="1074.0" r="9.2"/><circle cx="1056.0" cy="1089.8" r="9.2"/><circle cx="1094.1" cy="1051.7" r="9.2"/><circle cx="962.8" cy="1167.2" r="9.2"/><circle cx="989.1" cy="1168.5" r="9.2"/><circle cx="1230.7" cy="944.6" r="9.2"/><circle cx="1217.5" cy="948.6" r="9.2"/><circle cx="1202.4" cy="953.8" r="9.2"/><circle cx="1175.5" cy="957.8" r="9.2"/><circle cx="1169.0" cy="961.7" r="9.2"/><circle cx="1191.3" cy="964.3" r="9.2"/><circle cx="1218.9" cy="964.3" r="9.2"/><circle cx="1220.2" cy="970.9" r="9.2"/><circle cx="1226.7" cy="981.4" r="9.2"/><circle cx="1214.3" cy="1002.4" r="9.2"/><circle cx="1195.2" cy="1015.5" r="9.2"/><circle cx="1182.1" cy="1022.7" r="9.2"/><circle cx="1147.3" cy="976.1" r="9.2"/><circle cx="1134.8" cy="982.7" r="9.2"/><circle cx="1165.0" cy="978.8" r="9.2"/><circle cx="1190.0" cy="980.1" r="9.2"/><circle cx="1184.7" cy="991.9" r="9.2"/><circle cx="1175.5" cy="998.5" r="9.2"/><circle cx="1138.8" cy="999.8" r="9.2"/><circle cx="1162.4" cy="1015.5" r="9.2"/><circle cx="1162.4" cy="1035.2" r="9.2"/><circle cx="1145.3" cy="1031.3" r="9.2"/><circle cx="1108.6" cy="1015.5" r="9.2"/><circle cx="1125.6" cy="1012.9" r="9.2"/><circle cx="1085.0" cy="1031.3" r="9.2"/><circle cx="1144.0" cy="1053.6" r="9.2"/><circle cx="1130.9" cy="1070.7" r="9.2"/><circle cx="1094.1" cy="1044.4" r="9.2"/><circle cx="1075.8" cy="1057.5" r="9.2"/><circle cx="1109.9" cy="1057.5" r="9.2"/><circle cx="1125.6" cy="1044.4" r="9.2"/><circle cx="1151.9" cy="1005.0" r="9.2"/><circle cx="1112.5" cy="1031.3" r="9.2"/><circle cx="1099.4" cy="1037.9" r="9.2"/><circle cx="1138.8" cy="1041.8" r="9.2"/><circle cx="1066.6" cy="1070.7" r="9.2"/><circle cx="1092.8" cy="1070.7" r="9.2"/><circle cx="1119.1" cy="1064.1" r="9.2"/><circle cx="1171.6" cy="973.5" r="9.2"/><circle cx="1151.9" cy="991.9" r="9.2"/><circle cx="953.3" cy="1197.2" r="9.2"/><circle cx="963.2" cy="1167.5" r="9.2"/><circle cx="976.9" cy="1170.0" r="9.2"/><circle cx="989.3" cy="1170.0" r="9.2"/><circle cx="995.5" cy="1184.8" r="9.2"/><circle cx="1325.7" cy="823.7" r="9.2"/><circle cx="1320.9" cy="830.3" r="9.2"/><circle cx="1292.5" cy="865.4" r="9.2"/><circle cx="1290.6" cy="880.6" r="9.2"/><circle cx="1257.4" cy="880.6" r="9.2"/><circle cx="1269.7" cy="942.6" r="9.2"/><circle cx="1230.9" cy="945.1" r="9.2"/><circle cx="1221.4" cy="946.0" r="9.2"/><circle cx="1213.8" cy="949.8" r="9.2"/><circle cx="1202.4" cy="952.7" r="9.2"/><circle cx="1219.5" cy="965.0" r="9.2"/><circle cx="1219.5" cy="972.6" r="9.2"/><circle cx="1227.1" cy="981.1" r="9.2"/><circle cx="1175.9" cy="957.4" r="9.2"/><circle cx="1168.3" cy="962.1" r="9.2"/><circle cx="1191.0" cy="965.0" r="9.2"/><circle cx="1147.4" cy="976.4" r="9.2"/><circle cx="1135.1" cy="982.0" r="9.2"/><circle cx="1191.0" cy="980.2" r="9.2"/><circle cx="1179.7" cy="995.3" r="9.2"/><circle cx="1213.8" cy="1002.0" r="9.2"/><circle cx="1195.8" cy="1015.2" r="9.2"/><circle cx="1182.5" cy="1021.9" r="9.2"/><circle cx="1162.6" cy="1035.2" r="9.2"/><circle cx="1137.9" cy="1001.0" r="9.2"/><circle cx="1166.4" cy="978.3" r="9.2"/><circle cx="1172.1" cy="989.6" r="9.2"/></g>
<line x1="864.6" y1="1294.8" x2="1356.0" y2="803.0" stroke="#808080" stroke-width="3.8" stroke-dasharray="14.4 6.8" clip-path="url(#cd)"/>
<rect x="864.6" y="803.0" width="491.4" height="491.8" stroke="#000" stroke-width="2.0" fill="none"/>
<line x1="855.3" y1="803.1" x2="864.6" y2="803.1" stroke="#000" stroke-width="2.0"/>
<text transform="translate(811.89,813.65) scale(1.0500,1)" font-size="28.4">15</text>
<line x1="855.3" y1="885.0" x2="864.6" y2="885.0" stroke="#000" stroke-width="2.0"/>
<text transform="translate(811.82,895.60) scale(1.0500,1)" font-size="28.4">10</text>
<line x1="855.3" y1="967.0" x2="864.6" y2="967.0" stroke="#000" stroke-width="2.0"/>
<text transform="translate(828.44,977.55) scale(1.0500,1)" font-size="28.4">5</text>
<line x1="855.3" y1="1048.9" x2="864.6" y2="1048.9" stroke="#000" stroke-width="2.0"/>
<text transform="translate(828.37,1059.50) scale(1.0500,1)" font-size="28.4">0</text>
<line x1="855.3" y1="1130.9" x2="864.6" y2="1130.9" stroke="#000" stroke-width="2.0"/>
<text transform="translate(818.53,1141.45) scale(1.0500,1)" font-size="28.4">-5</text>
<line x1="855.3" y1="1212.8" x2="864.6" y2="1212.8" stroke="#000" stroke-width="2.0"/>
<text transform="translate(801.83,1223.40) scale(1.0500,1)" font-size="28.4">-10</text>
<line x1="855.3" y1="1294.8" x2="864.6" y2="1294.8" stroke="#000" stroke-width="2.0"/>
<text transform="translate(801.90,1305.35) scale(1.0500,1)" font-size="28.4">-15</text>
<line x1="864.6" y1="1294.8" x2="864.6" y2="1304.1" stroke="#000" stroke-width="2.0"/>
<text transform="translate(842.98,1334.00) scale(1.0500,1)" font-size="28.4">-15</text>
<line x1="946.5" y1="1294.8" x2="946.5" y2="1304.1" stroke="#000" stroke-width="2.0"/>
<text transform="translate(924.84,1334.00) scale(1.0500,1)" font-size="28.4">-10</text>
<line x1="1028.4" y1="1294.8" x2="1028.4" y2="1304.1" stroke="#000" stroke-width="2.0"/>
<text transform="translate(1015.09,1334.00) scale(1.0500,1)" font-size="28.4">-5</text>
<line x1="1110.3" y1="1294.8" x2="1110.3" y2="1304.1" stroke="#000" stroke-width="2.0"/>
<text transform="translate(1101.99,1334.00) scale(1.0500,1)" font-size="28.4">0</text>
<line x1="1192.2" y1="1294.8" x2="1192.2" y2="1304.1" stroke="#000" stroke-width="2.0"/>
<text transform="translate(1183.92,1334.00) scale(1.0500,1)" font-size="28.4">5</text>
<line x1="1274.1" y1="1294.8" x2="1274.1" y2="1304.1" stroke="#000" stroke-width="2.0"/>
<text transform="translate(1256.99,1334.00) scale(1.0500,1)" font-size="28.4">10</text>
<line x1="1356.0" y1="1294.8" x2="1356.0" y2="1304.1" stroke="#000" stroke-width="2.0"/>
<text transform="translate(1338.93,1334.00) scale(1.0500,1)" font-size="28.4">15</text>
<text transform="translate(863.58,1390.50) scale(1.0436,1)" font-size="45.5">DFT Quadrupole [e-<tspan font-style="italic">Å</tspan><tspan font-size="31" dy="-18"> 2</tspan><tspan dy="18">]</tspan></text>
<text transform="translate(780.80,1291.28) rotate(-90) scale(1.0311,1)" font-size="45.6">LES Quadrupole [e-<tspan font-style="italic">Å</tspan><tspan font-size="31" dy="-18"> 2</tspan><tspan dy="18">]</tspan></text>
<g fill="#1f77b4" clip-path="url(#ce)"><circle cx="589.5" cy="1513.9" r="9.2"/><circle cx="582.5" cy="1520.9" r="9.2"/><circle cx="575.5" cy="1527.9" r="9.2"/><circle cx="582.5" cy="1527.9" r="9.2"/><circle cx="568.5" cy="1534.9" r="9.2"/><circle cx="575.5" cy="1534.9" r="9.2"/><circle cx="533.5" cy="1541.9" r="9.2"/><circle cx="554.5" cy="1541.9" r="9.2"/><circle cx="561.5" cy="1541.9" r="9.2"/><circle cx="568.5" cy="1541.9" r="9.2"/><circle cx="575.5" cy="1541.9" r="9.2"/><circle cx="533.5" cy="1548.9" r="9.2"/><circle cx="547.5" cy="1548.9" r="9.2"/><circle cx="554.5" cy="1548.9" r="9.2"/><circle cx="561.5" cy="1548.9" r="9.2"/><circle cx="568.5" cy="1548.9" r="9.2"/><circle cx="526.5" cy="1555.9" r="9.2"/><circle cx="533.5" cy="1555.9" r="9.2"/><circle cx="540.5" cy="1555.9" r="9.2"/><circle cx="547.5" cy="1555.9" r="9.2"/><circle cx="554.5" cy="1555.9" r="9.2"/><circle cx="561.5" cy="1555.9" r="9.2"/><circle cx="526.5" cy="1562.9" r="9.2"/><circle cx="533.5" cy="1562.9" r="9.2"/><circle cx="540.5" cy="1562.9" r="9.2"/><circle cx="547.5" cy="1562.9" r="9.2"/><circle cx="505.5" cy="1569.9" r="9.2"/><circle cx="512.5" cy="1569.9" r="9.2"/><circle cx="519.5" cy="1569.9" r="9.2"/><circle cx="526.5" cy="1569.9" r="9.2"/><circle cx="533.5" cy="1569.9" r="9.2"/><circle cx="540.5" cy="1569.9" r="9.2"/><circle cx="547.5" cy="1569.9" r="9.2"/><circle cx="491.5" cy="1576.9" r="9.2"/><circle cx="498.5" cy="1576.9" r="9.2"/><circle cx="505.5" cy="1576.9" r="9.2"/><circle cx="512.5" cy="1576.9" r="9.2"/><circle cx="519.5" cy="1576.9" r="9.2"/><circle cx="526.5" cy="1576.9" r="9.2"/><circle cx="533.5" cy="1576.9" r="9.2"/><circle cx="540.5" cy="1576.9" r="9.2"/><circle cx="547.5" cy="1576.9" r="9.2"/><circle cx="484.5" cy="1583.9" r="9.2"/><circle cx="491.5" cy="1583.9" r="9.2"/><circle cx="498.5" cy="1583.9" r="9.2"/><circle cx="505.5" cy="1583.9" r="9.2"/><circle cx="512.5" cy="1583.9" r="9.2"/><circle cx="519.5" cy="1583.9" r="9.2"/><circle cx="526.5" cy="1583.9" r="9.2"/><circle cx="533.5" cy="1583.9" r="9.2"/><circle cx="540.5" cy="1583.9" r="9.2"/><circle cx="547.5" cy="1583.9" r="9.2"/><circle cx="477.5" cy="1590.9" r="9.2"/><circle cx="484.5" cy="1590.9" r="9.2"/><circle cx="491.5" cy="1590.9" r="9.2"/><circle cx="498.5" cy="1590.9" r="9.2"/><circle cx="505.5" cy="1590.9" r="9.2"/><circle cx="512.5" cy="1590.9" r="9.2"/><circle cx="519.5" cy="1590.9" r="9.2"/><circle cx="526.5" cy="1590.9" r="9.2"/><circle cx="533.5" cy="1590.9" r="9.2"/><circle cx="540.5" cy="1590.9" r="9.2"/><circle cx="547.5" cy="1590.9" r="9.2"/><circle cx="554.5" cy="1590.9" r="9.2"/><circle cx="477.5" cy="1597.9" r="9.2"/><circle cx="484.5" cy="1597.9" r="9.2"/><circle cx="491.5" cy="1597.9" r="9.2"/><circle cx="498.5" cy="1597.9" r="9.2"/><circle cx="505.5" cy="1597.9" r="9.2"/><circle cx="512.5" cy="1597.9" r="9.2"/><circle cx="519.5" cy="1597.9" r="9.2"/><circle cx="526.5" cy="1597.9" r="9.2"/><circle cx="533.5" cy="1597.9" r="9.2"/><circle cx="540.5" cy="1597.9" r="9.2"/><circle cx="568.5" cy="1597.9" r="9.2"/><circle cx="470.5" cy="1604.9" r="9.2"/><circle cx="477.5" cy="1604.9" r="9.2"/><circle cx="484.5" cy="1604.9" r="9.2"/><circle cx="491.5" cy="1604.9" r="9.2"/><circle cx="498.5" cy="1604.9" r="9.2"/><circle cx="505.5" cy="1604.9" r="9.2"/><circle cx="512.5" cy="1604.9" r="9.2"/><circle cx="519.5" cy="1604.9" r="9.2"/><circle cx="526.5" cy="1604.9" r="9.2"/><circle cx="533.5" cy="1604.9" r="9.2"/><circle cx="470.5" cy="1611.9" r="9.2"/><circle cx="477.5" cy="1611.9" r="9.2"/><circle cx="484.5" cy="1611.9" r="9.2"/><circle cx="491.5" cy="1611.9" r="9.2"/><circle cx="498.5" cy="1611.9" r="9.2"/><circle cx="505.5" cy="1611.9" r="9.2"/><circle cx="512.5" cy="1611.9" r="9.2"/><circle cx="519.5" cy="1611.9" r="9.2"/><circle cx="526.5" cy="1611.9" r="9.2"/><circle cx="463.5" cy="1618.9" r="9.2"/><circle cx="470.5" cy="1618.9" r="9.2"/><circle cx="477.5" cy="1618.9" r="9.2"/><circle cx="484.5" cy="1618.9" r="9.2"/><circle cx="491.5" cy="1618.9" r="9.2"/><circle cx="498.5" cy="1618.9" r="9.2"/><circle cx="505.5" cy="1618.9" r="9.2"/><circle cx="512.5" cy="1618.9" r="9.2"/><circle cx="519.5" cy="1618.9" r="9.2"/><circle cx="456.5" cy="1625.9" r="9.2"/><circle cx="463.5" cy="1625.9" r="9.2"/><circle cx="470.5" cy="1625.9" r="9.2"/><circle cx="477.5" cy="1625.9" r="9.2"/><circle cx="484.5" cy="1625.9" r="9.2"/><circle cx="491.5" cy="1625.9" r="9.2"/><circle cx="498.5" cy="1625.9" r="9.2"/><circle cx="505.5" cy="1625.9" r="9.2"/><circle cx="442.5" cy="1632.9" r="9.2"/><circle cx="449.5" cy="1632.9" r="9.2"/><circle cx="456.5" cy="1632.9" r="9.2"/><circle cx="463.5" cy="1632.9" r="9.2"/><circle cx="470.5" cy="1632.9" r="9.2"/><circle cx="477.5" cy="1632.9" r="9.2"/><circle cx="484.5" cy="1632.9" r="9.2"/><circle cx="491.5" cy="1632.9" r="9.2"/><circle cx="498.5" cy="1632.9" r="9.2"/><circle cx="435.5" cy="1639.9" r="9.2"/><circle cx="442.5" cy="1639.9" r="9.2"/><circle cx="449.5" cy="1639.9" r="9.2"/><circle cx="456.5" cy="1639.9" r="9.2"/><circle cx="463.5" cy="1639.9" r="9.2"/><circle cx="470.5" cy="1639.9" r="9.2"/><circle cx="477.5" cy="1639.9" r="9.2"/><circle cx="484.5" cy="1639.9" r="9.2"/><circle cx="491.5" cy="1639.9" r="9.2"/><circle cx="428.5" cy="1646.9" r="9.2"/><circle cx="435.5" cy="1646.9" r="9.2"/><circle cx="442.5" cy="1646.9" r="9.2"/><circle cx="449.5" cy="1646.9" r="9.2"/><circle cx="456.5" cy="1646.9" r="9.2"/><circle cx="463.5" cy="1646.9" r="9.2"/><circle cx="470.5" cy="1646.9" r="9.2"/><circle cx="477.5" cy="1646.9" r="9.2"/><circle cx="484.5" cy="1646.9" r="9.2"/><circle cx="491.5" cy="1646.9" r="9.2"/><circle cx="421.5" cy="1653.9" r="9.2"/><circle cx="428.5" cy="1653.9" r="9.2"/><circle cx="435.5" cy="1653.9" r="9.2"/><circle cx="442.5" cy="1653.9" r="9.2"/><circle cx="449.5" cy="1653.9" r="9.2"/><circle cx="456.5" cy="1653.9" r="9.2"/><circle cx="463.5" cy="1653.9" r="9.2"/><circle cx="470.5" cy="1653.9" r="9.2"/><circle cx="477.5" cy="1653.9" r="9.2"/><circle cx="484.5" cy="1653.9" r="9.2"/><circle cx="393.5" cy="1660.9" r="9.2"/><circle cx="400.5" cy="1660.9" r="9.2"/><circle cx="421.5" cy="1660.9" r="9.2"/><circle cx="428.5" cy="1660.9" r="9.2"/><circle cx="435.5" cy="1660.9" r="9.2"/><circle cx="442.5" cy="1660.9" r="9.2"/><circle cx="449.5" cy="1660.9" r="9.2"/><circle cx="456.5" cy="1660.9" r="9.2"/><circle cx="463.5" cy="1660.9" r="9.2"/><circle cx="470.5" cy="1660.9" r="9.2"/><circle cx="477.5" cy="1660.9" r="9.2"/><circle cx="484.5" cy="1660.9" r="9.2"/><circle cx="379.5" cy="1667.9" r="9.2"/><circle cx="386.5" cy="1667.9" r="9.2"/><circle cx="393.5" cy="1667.9" r="9.2"/><circle cx="400.5" cy="1667.9" r="9.2"/><circle cx="407.5" cy="1667.9" r="9.2"/><circle cx="414.5" cy="1667.9" r="9.2"/><circle cx="421.5" cy="1667.9" r="9.2"/><circle cx="428.5" cy="1667.9" r="9.2"/><circle cx="435.5" cy="1667.9" r="9.2"/><circle cx="442.5" cy="1667.9" r="9.2"/><circle cx="449.5" cy="1667.9" r="9.2"/><circle cx="456.5" cy="1667.9" r="9.2"/><circle cx="463.5" cy="1667.9" r="9.2"/><circle cx="470.5" cy="1667.9" r="9.2"/><circle cx="477.5" cy="1667.9" r="9.2"/><circle cx="484.5" cy="1667.9" r="9.2"/><circle cx="386.5" cy="1674.9" r="9.2"/><circle cx="393.5" cy="1674.9" r="9.2"/><circle cx="400.5" cy="1674.9" r="9.2"/><circle cx="407.5" cy="1674.9" r="9.2"/><circle cx="414.5" cy="1674.9" r="9.2"/><circle cx="421.5" cy="1674.9" r="9.2"/><circle cx="428.5" cy="1674.9" r="9.2"/><circle cx="435.5" cy="1674.9" r="9.2"/><circle cx="442.5" cy="1674.9" r="9.2"/><circle cx="449.5" cy="1674.9" r="9.2"/><circle cx="456.5" cy="1674.9" r="9.2"/><circle cx="463.5" cy="1674.9" r="9.2"/><circle cx="470.5" cy="1674.9" r="9.2"/><circle cx="477.5" cy="1674.9" r="9.2"/><circle cx="484.5" cy="1674.9" r="9.2"/><circle cx="386.5" cy="1681.9" r="9.2"/><circle cx="393.5" cy="1681.9" r="9.2"/><circle cx="400.5" cy="1681.9" r="9.2"/><circle cx="407.5" cy="1681.9" r="9.2"/><circle cx="414.5" cy="1681.9" r="9.2"/><circle cx="421.5" cy="1681.9" r="9.2"/><circle cx="428.5" cy="1681.9" r="9.2"/><circle cx="435.5" cy="1681.9" r="9.2"/><circle cx="442.5" cy="1681.9" r="9.2"/><circle cx="449.5" cy="1681.9" r="9.2"/><circle cx="456.5" cy="1681.9" r="9.2"/><circle cx="463.5" cy="1681.9" r="9.2"/><circle cx="470.5" cy="1681.9" r="9.2"/><circle cx="477.5" cy="1681.9" r="9.2"/><circle cx="484.5" cy="1681.9" r="9.2"/><circle cx="379.5" cy="1688.9" r="9.2"/><circle cx="386.5" cy="1688.9" r="9.2"/><circle cx="393.5" cy="1688.9" r="9.2"/><circle cx="400.5" cy="1688.9" r="9.2"/><circle cx="407.5" cy="1688.9" r="9.2"/><circle cx="414.5" cy="1688.9" r="9.2"/><circle cx="421.5" cy="1688.9" r="9.2"/><circle cx="428.5" cy="1688.9" r="9.2"/><circle cx="435.5" cy="1688.9" r="9.2"/><circle cx="442.5" cy="1688.9" r="9.2"/><circle cx="449.5" cy="1688.9" r="9.2"/><circle cx="456.5" cy="1688.9" r="9.2"/><circle cx="463.5" cy="1688.9" r="9.2"/><circle cx="470.5" cy="1688.9" r="9.2"/><circle cx="477.5" cy="1688.9" r="9.2"/><circle cx="379.5" cy="1695.9" r="9.2"/><circle cx="386.5" cy="1695.9" r="9.2"/><circle cx="393.5" cy="1695.9" r="9.2"/><circle cx="400.5" cy="1695.9" r="9.2"/><circle cx="407.5" cy="1695.9" r="9.2"/><circle cx="414.5" cy="1695.9" r="9.2"/><circle cx="421.5" cy="1695.9" r="9.2"/><circle cx="428.5" cy="1695.9" r="9.2"/><circle cx="435.5" cy="1695.9" r="9.2"/><circle cx="442.5" cy="1695.9" r="9.2"/><circle cx="449.5" cy="1695.9" r="9.2"/><circle cx="456.5" cy="1695.9" r="9.2"/><circle cx="463.5" cy="1695.9" r="9.2"/><circle cx="470.5" cy="1695.9" r="9.2"/><circle cx="372.5" cy="1702.9" r="9.2"/><circle cx="379.5" cy="1702.9" r="9.2"/><circle cx="386.5" cy="1702.9" r="9.2"/><circle cx="393.5" cy="1702.9" r="9.2"/><circle cx="400.5" cy="1702.9" r="9.2"/><circle cx="407.5" cy="1702.9" r="9.2"/><circle cx="414.5" cy="1702.9" r="9.2"/><circle cx="421.5" cy="1702.9" r="9.2"/><circle cx="428.5" cy="1702.9" r="9.2"/><circle cx="435.5" cy="1702.9" r="9.2"/><circle cx="442.5" cy="1702.9" r="9.2"/><circle cx="449.5" cy="1702.9" r="9.2"/><circle cx="456.5" cy="1702.9" r="9.2"/><circle cx="463.5" cy="1702.9" r="9.2"/><circle cx="470.5" cy="1702.9" r="9.2"/><circle cx="365.5" cy="1709.9" r="9.2"/><circle cx="372.5" cy="1709.9" r="9.2"/><circle cx="379.5" cy="1709.9" r="9.2"/><circle cx="386.5" cy="1709.9" r="9.2"/><circle cx="393.5" cy="1709.9" r="9.2"/><circle cx="400.5" cy="1709.9" r="9.2"/><circle cx="407.5" cy="1709.9" r="9.2"/><circle cx="414.5" cy="1709.9" r="9.2"/><circle cx="421.5" cy="1709.9" r="9.2"/><circle cx="428.5" cy="1709.9" r="9.2"/><circle cx="365.5" cy="1716.9" r="9.2"/><circle cx="372.5" cy="1716.9" r="9.2"/><circle cx="379.5" cy="1716.9" r="9.2"/><circle cx="386.5" cy="1716.9" r="9.2"/><circle cx="393.5" cy="1716.9" r="9.2"/><circle cx="400.5" cy="1716.9" r="9.2"/><circle cx="407.5" cy="1716.9" r="9.2"/><circle cx="414.5" cy="1716.9" r="9.2"/><circle cx="358.5" cy="1723.9" r="9.2"/><circle cx="365.5" cy="1723.9" r="9.2"/><circle cx="372.5" cy="1723.9" r="9.2"/><circle cx="379.5" cy="1723.9" r="9.2"/><circle cx="386.5" cy="1723.9" r="9.2"/><circle cx="393.5" cy="1723.9" r="9.2"/><circle cx="344.5" cy="1730.9" r="9.2"/><circle cx="351.5" cy="1730.9" r="9.2"/><circle cx="358.5" cy="1730.9" r="9.2"/><circle cx="365.5" cy="1730.9" r="9.2"/><circle cx="372.5" cy="1730.9" r="9.2"/><circle cx="379.5" cy="1730.9" r="9.2"/><circle cx="386.5" cy="1730.9" r="9.2"/><circle cx="337.5" cy="1737.9" r="9.2"/><circle cx="344.5" cy="1737.9" r="9.2"/><circle cx="351.5" cy="1737.9" r="9.2"/><circle cx="358.5" cy="1737.9" r="9.2"/><circle cx="365.5" cy="1737.9" r="9.2"/><circle cx="372.5" cy="1737.9" r="9.2"/><circle cx="379.5" cy="1737.9" r="9.2"/><circle cx="330.5" cy="1744.9" r="9.2"/><circle cx="337.5" cy="1744.9" r="9.2"/><circle cx="344.5" cy="1744.9" r="9.2"/><circle cx="351.5" cy="1744.9" r="9.2"/><circle cx="358.5" cy="1744.9" r="9.2"/><circle cx="365.5" cy="1744.9" r="9.2"/><circle cx="372.5" cy="1744.9" r="9.2"/><circle cx="316.5" cy="1751.9" r="9.2"/><circle cx="323.5" cy="1751.9" r="9.2"/><circle cx="330.5" cy="1751.9" r="9.2"/><circle cx="337.5" cy="1751.9" r="9.2"/><circle cx="344.5" cy="1751.9" r="9.2"/><circle cx="351.5" cy="1751.9" r="9.2"/><circle cx="358.5" cy="1751.9" r="9.2"/><circle cx="365.5" cy="1751.9" r="9.2"/><circle cx="372.5" cy="1751.9" r="9.2"/><circle cx="309.5" cy="1758.9" r="9.2"/><circle cx="316.5" cy="1758.9" r="9.2"/><circle cx="323.5" cy="1758.9" r="9.2"/><circle cx="330.5" cy="1758.9" r="9.2"/><circle cx="337.5" cy="1758.9" r="9.2"/><circle cx="344.5" cy="1758.9" r="9.2"/><circle cx="351.5" cy="1758.9" r="9.2"/><circle cx="358.5" cy="1758.9" r="9.2"/><circle cx="295.5" cy="1765.9" r="9.2"/><circle cx="302.5" cy="1765.9" r="9.2"/><circle cx="309.5" cy="1765.9" r="9.2"/><circle cx="316.5" cy="1765.9" r="9.2"/><circle cx="323.5" cy="1765.9" r="9.2"/><circle cx="330.5" cy="1765.9" r="9.2"/><circle cx="337.5" cy="1765.9" r="9.2"/><circle cx="344.5" cy="1765.9" r="9.2"/><circle cx="351.5" cy="1765.9" r="9.2"/><circle cx="281.5" cy="1772.9" r="9.2"/><circle cx="288.5" cy="1772.9" r="9.2"/><circle cx="295.5" cy="1772.9" r="9.2"/><circle cx="302.5" cy="1772.9" r="9.2"/><circle cx="309.5" cy="1772.9" r="9.2"/><circle cx="316.5" cy="1772.9" r="9.2"/><circle cx="323.5" cy="1772.9" r="9.2"/><circle cx="330.5" cy="1772.9" r="9.2"/><circle cx="337.5" cy="1772.9" r="9.2"/><circle cx="267.5" cy="1779.9" r="9.2"/><circle cx="274.5" cy="1779.9" r="9.2"/><circle cx="281.5" cy="1779.9" r="9.2"/><circle cx="288.5" cy="1779.9" r="9.2"/><circle cx="295.5" cy="1779.9" r="9.2"/><circle cx="302.5" cy="1779.9" r="9.2"/><circle cx="309.5" cy="1779.9" r="9.2"/><circle cx="316.5" cy="1779.9" r="9.2"/><circle cx="323.5" cy="1779.9" r="9.2"/><circle cx="330.5" cy="1779.9" r="9.2"/><circle cx="260.5" cy="1786.9" r="9.2"/><circle cx="267.5" cy="1786.9" r="9.2"/><circle cx="274.5" cy="1786.9" r="9.2"/><circle cx="281.5" cy="1786.9" r="9.2"/><circle cx="288.5" cy="1786.9" r="9.2"/><circle cx="295.5" cy="1786.9" r="9.2"/><circle cx="302.5" cy="1786.9" r="9.2"/><circle cx="309.5" cy="1786.9" r="9.2"/><circle cx="316.5" cy="1786.9" r="9.2"/><circle cx="323.5" cy="1786.9" r="9.2"/><circle cx="260.5" cy="1793.9" r="9.2"/><circle cx="267.5" cy="1793.9" r="9.2"/><circle cx="274.5" cy="1793.9" r="9.2"/><circle cx="281.5" cy="1793.9" r="9.2"/><circle cx="288.5" cy="1793.9" r="9.2"/><circle cx="295.5" cy="1793.9" r="9.2"/><circle cx="302.5" cy="1793.9" r="9.2"/><circle cx="309.5" cy="1793.9" r="9.2"/><circle cx="316.5" cy="1793.9" r="9.2"/><circle cx="323.5" cy="1793.9" r="9.2"/><circle cx="253.5" cy="1800.9" r="9.2"/><circle cx="260.5" cy="1800.9" r="9.2"/><circle cx="267.5" cy="1800.9" r="9.2"/><circle cx="274.5" cy="1800.9" r="9.2"/><circle cx="281.5" cy="1800.9" r="9.2"/><circle cx="288.5" cy="1800.9" r="9.2"/><circle cx="295.5" cy="1800.9" r="9.2"/><circle cx="302.5" cy="1800.9" r="9.2"/><circle cx="309.5" cy="1800.9" r="9.2"/><circle cx="316.5" cy="1800.9" r="9.2"/><circle cx="246.5" cy="1807.9" r="9.2"/><circle cx="253.5" cy="1807.9" r="9.2"/><circle cx="260.5" cy="1807.9" r="9.2"/><circle cx="267.5" cy="1807.9" r="9.2"/><circle cx="274.5" cy="1807.9" r="9.2"/><circle cx="281.5" cy="1807.9" r="9.2"/><circle cx="288.5" cy="1807.9" r="9.2"/><circle cx="295.5" cy="1807.9" r="9.2"/><circle cx="302.5" cy="1807.9" r="9.2"/><circle cx="309.5" cy="1807.9" r="9.2"/><circle cx="316.5" cy="1807.9" r="9.2"/><circle cx="239.5" cy="1814.9" r="9.2"/><circle cx="246.5" cy="1814.9" r="9.2"/><circle cx="253.5" cy="1814.9" r="9.2"/><circle cx="260.5" cy="1814.9" r="9.2"/><circle cx="267.5" cy="1814.9" r="9.2"/><circle cx="274.5" cy="1814.9" r="9.2"/><circle cx="281.5" cy="1814.9" r="9.2"/><circle cx="288.5" cy="1814.9" r="9.2"/><circle cx="295.5" cy="1814.9" r="9.2"/><circle cx="302.5" cy="1814.9" r="9.2"/><circle cx="309.5" cy="1814.9" r="9.2"/><circle cx="232.5" cy="1821.9" r="9.2"/><circle cx="239.5" cy="1821.9" r="9.2"/><circle cx="246.5" cy="1821.9" r="9.2"/><circle cx="253.5" cy="1821.9" r="9.2"/><circle cx="260.5" cy="1821.9" r="9.2"/><circle cx="267.5" cy="1821.9" r="9.2"/><circle cx="274.5" cy="1821.9" r="9.2"/><circle cx="281.5" cy="1821.9" r="9.2"/><circle cx="288.5" cy="1821.9" r="9.2"/><circle cx="295.5" cy="1821.9" r="9.2"/><circle cx="225.5" cy="1828.9" r="9.2"/><circle cx="232.5" cy="1828.9" r="9.2"/><circle cx="239.5" cy="1828.9" r="9.2"/><circle cx="246.5" cy="1828.9" r="9.2"/><circle cx="253.5" cy="1828.9" r="9.2"/><circle cx="260.5" cy="1828.9" r="9.2"/><circle cx="267.5" cy="1828.9" r="9.2"/><circle cx="274.5" cy="1828.9" r="9.2"/><circle cx="281.5" cy="1828.9" r="9.2"/><circle cx="288.5" cy="1828.9" r="9.2"/><circle cx="218.5" cy="1835.9" r="9.2"/><circle cx="225.5" cy="1835.9" r="9.2"/><circle cx="232.5" cy="1835.9" r="9.2"/><circle cx="239.5" cy="1835.9" r="9.2"/><circle cx="246.5" cy="1835.9" r="9.2"/><circle cx="253.5" cy="1835.9" r="9.2"/><circle cx="260.5" cy="1835.9" r="9.2"/><circle cx="267.5" cy="1835.9" r="9.2"/><circle cx="274.5" cy="1835.9" r="9.2"/><circle cx="281.5" cy="1835.9" r="9.2"/><circle cx="218.5" cy="1842.9" r="9.2"/><circle cx="225.5" cy="1842.9" r="9.2"/><circle cx="232.5" cy="1842.9" r="9.2"/><circle cx="239.5" cy="1842.9" r="9.2"/><circle cx="246.5" cy="1842.9" r="9.2"/><circle cx="253.5" cy="1842.9" r="9.2"/><circle cx="260.5" cy="1842.9" r="9.2"/><circle cx="267.5" cy="1842.9" r="9.2"/><circle cx="274.5" cy="1842.9" r="9.2"/><circle cx="211.5" cy="1849.9" r="9.2"/><circle cx="218.5" cy="1849.9" r="9.2"/><circle cx="225.5" cy="1849.9" r="9.2"/><circle cx="232.5" cy="1849.9" r="9.2"/><circle cx="239.5" cy="1849.9" r="9.2"/><circle cx="246.5" cy="1849.9" r="9.2"/><circle cx="253.5" cy="1849.9" r="9.2"/><circle cx="260.5" cy="1849.9" r="9.2"/><circle cx="267.5" cy="1849.9" r="9.2"/><circle cx="211.5" cy="1856.9" r="9.2"/><circle cx="218.5" cy="1856.9" r="9.2"/><circle cx="225.5" cy="1856.9" r="9.2"/><circle cx="232.5" cy="1856.9" r="9.2"/><circle cx="239.5" cy="1856.9" r="9.2"/><circle cx="246.5" cy="1856.9" r="9.2"/><circle cx="253.5" cy="1856.9" r="9.2"/><circle cx="260.5" cy="1856.9" r="9.2"/><circle cx="267.5" cy="1856.9" r="9.2"/><circle cx="190.5" cy="1863.9" r="9.2"/><circle cx="197.5" cy="1863.9" r="9.2"/><circle cx="204.5" cy="1863.9" r="9.2"/><circle cx="211.5" cy="1863.9" r="9.2"/><circle cx="218.5" cy="1863.9" r="9.2"/><circle cx="225.5" cy="1863.9" r="9.2"/><circle cx="232.5" cy="1863.9" r="9.2"/><circle cx="239.5" cy="1863.9" r="9.2"/><circle cx="246.5" cy="1863.9" r="9.2"/><circle cx="253.5" cy="1863.9" r="9.2"/><circle cx="260.5" cy="1863.9" r="9.2"/><circle cx="176.5" cy="1870.9" r="9.2"/><circle cx="183.5" cy="1870.9" r="9.2"/><circle cx="190.5" cy="1870.9" r="9.2"/><circle cx="197.5" cy="1870.9" r="9.2"/><circle cx="204.5" cy="1870.9" r="9.2"/><circle cx="211.5" cy="1870.9" r="9.2"/><circle cx="218.5" cy="1870.9" r="9.2"/><circle cx="225.5" cy="1870.9" r="9.2"/><circle cx="232.5" cy="1870.9" r="9.2"/><circle cx="239.5" cy="1870.9" r="9.2"/><circle cx="169.5" cy="1877.9" r="9.2"/><circle cx="176.5" cy="1877.9" r="9.2"/><circle cx="183.5" cy="1877.9" r="9.2"/><circle cx="190.5" cy="1877.9" r="9.2"/><circle cx="197.5" cy="1877.9" r="9.2"/><circle cx="204.5" cy="1877.9" r="9.2"/><circle cx="211.5" cy="1877.9" r="9.2"/><circle cx="218.5" cy="1877.9" r="9.2"/><circle cx="225.5" cy="1877.9" r="9.2"/><circle cx="232.5" cy="1877.9" r="9.2"/><circle cx="239.5" cy="1877.9" r="9.2"/><circle cx="169.5" cy="1884.9" r="9.2"/><circle cx="176.5" cy="1884.9" r="9.2"/><circle cx="183.5" cy="1884.9" r="9.2"/><circle cx="190.5" cy="1884.9" r="9.2"/><circle cx="197.5" cy="1884.9" r="9.2"/><circle cx="204.5" cy="1884.9" r="9.2"/><circle cx="211.5" cy="1884.9" r="9.2"/><circle cx="218.5" cy="1884.9" r="9.2"/><circle cx="225.5" cy="1884.9" r="9.2"/><circle cx="232.5" cy="1884.9" r="9.2"/><circle cx="183.5" cy="1891.9" r="9.2"/><circle cx="190.5" cy="1891.9" r="9.2"/><circle cx="197.5" cy="1891.9" r="9.2"/><circle cx="204.5" cy="1891.9" r="9.2"/><circle cx="211.5" cy="1891.9" r="9.2"/><circle cx="218.5" cy="1891.9" r="9.2"/><circle cx="225.5" cy="1891.9" r="9.2"/><circle cx="162.5" cy="1886.9" r="9.2"/><circle cx="176.5" cy="1867.7" r="9.2"/><circle cx="188.2" cy="1861.9" r="9.2"/><circle cx="203.4" cy="1860.7" r="9.2"/><circle cx="212.7" cy="1844.3" r="9.2"/><circle cx="222.0" cy="1824.5" r="9.2"/><circle cx="238.4" cy="1812.8" r="9.2"/><circle cx="252.5" cy="1797.2" r="9.2"/><circle cx="255.1" cy="1789.3" r="9.2"/><circle cx="267.0" cy="1780.1" r="9.2"/><circle cx="278.8" cy="1773.5" r="9.2"/><circle cx="294.5" cy="1763.0" r="9.2"/><circle cx="306.3" cy="1757.8" r="9.2"/><circle cx="326.0" cy="1743.3" r="9.2"/><circle cx="336.5" cy="1734.1" r="9.2"/><circle cx="352.3" cy="1724.4" r="9.2"/><circle cx="362.8" cy="1715.2" r="9.2"/><circle cx="365.4" cy="1706.0" r="9.2"/><circle cx="377.3" cy="1694.2" r="9.2"/><circle cx="381.2" cy="1683.7" r="9.2"/><circle cx="378.6" cy="1668.0" r="9.2"/><circle cx="391.7" cy="1657.5" r="9.2"/><circle cx="412.7" cy="1664.0" r="9.2"/><circle cx="420.6" cy="1654.8" r="9.2"/><circle cx="437.7" cy="1635.1" r="9.2"/><circle cx="445.5" cy="1631.2" r="9.2"/><circle cx="459.3" cy="1619.4" r="9.2"/><circle cx="469.2" cy="1604.9" r="9.2"/><circle cx="477.0" cy="1587.9" r="9.2"/><circle cx="480.7" cy="1582.4" r="9.2"/><circle cx="500.4" cy="1569.3" r="9.2"/><circle cx="524.0" cy="1562.7" r="9.2"/><circle cx="526.6" cy="1550.9" r="9.2"/><circle cx="528.0" cy="1535.8" r="9.2"/><circle cx="542.4" cy="1550.9" r="9.2"/><circle cx="564.1" cy="1533.8" r="9.2"/><circle cx="583.1" cy="1519.4" r="9.2"/><circle cx="593.0" cy="1506.9" r="9.2"/><circle cx="583.1" cy="1529.9" r="9.2"/><circle cx="572.6" cy="1548.3" r="9.2"/><circle cx="552.9" cy="1564.0" r="9.2"/><circle cx="552.9" cy="1585.0" r="9.2"/><circle cx="569.3" cy="1598.2" r="9.2"/><circle cx="547.7" cy="1595.5" r="9.2"/><circle cx="529.3" cy="1611.3" r="9.2"/><circle cx="518.8" cy="1621.8" r="9.2"/><circle cx="505.6" cy="1629.7" r="9.2"/><circle cx="502.0" cy="1629.9" r="9.2"/><circle cx="491.5" cy="1652.2" r="9.2"/><circle cx="487.5" cy="1669.3" r="9.2"/><circle cx="491.5" cy="1678.5" r="9.2"/><circle cx="483.6" cy="1685.0" r="9.2"/><circle cx="472.4" cy="1703.4" r="9.2"/><circle cx="450.8" cy="1703.4" r="9.2"/><circle cx="437.7" cy="1708.7" r="9.2"/><circle cx="424.5" cy="1715.2" r="9.2"/><circle cx="412.7" cy="1719.2" r="9.2"/><circle cx="398.3" cy="1721.8" r="9.2"/><circle cx="385.1" cy="1732.3" r="9.2"/><circle cx="374.6" cy="1752.5" r="9.2"/><circle cx="365.4" cy="1757.8" r="9.2"/><circle cx="348.4" cy="1768.3" r="9.2"/><circle cx="331.3" cy="1780.1" r="9.2"/><circle cx="323.4" cy="1795.8" r="9.2"/><circle cx="318.2" cy="1809.0" r="9.2"/><circle cx="299.8" cy="1823.4" r="9.2"/><circle cx="285.3" cy="1836.5" r="9.2"/><circle cx="273.5" cy="1851.0" r="9.2"/><circle cx="260.4" cy="1864.1" r="9.2"/><circle cx="247.7" cy="1865.4" r="9.2"/><circle cx="243.3" cy="1873.3" r="9.2"/><circle cx="236.0" cy="1884.0" r="9.2"/><circle cx="227.9" cy="1896.9" r="9.2"/><circle cx="205.7" cy="1898.0" r="9.2"/><circle cx="180.0" cy="1892.2" r="9.2"/><circle cx="156.1" cy="1926.6" r="9.2"/><circle cx="212.7" cy="1844.3" r="9.2"/><circle cx="259.4" cy="1858.3" r="9.2"/><circle cx="271.0" cy="1850.2" r="9.2"/><circle cx="236.0" cy="1884.0" r="9.2"/><circle cx="247.7" cy="1865.4" r="9.2"/></g>
<line x1="131.5" y1="1966.8" x2="617.5" y2="1481.0" stroke="#808080" stroke-width="3.8" stroke-dasharray="14.4 6.8" stroke-dashoffset="-2.7" clip-path="url(#ce)"/>
<rect x="131.5" y="1481.0" width="486.0" height="485.8" stroke="#000" stroke-width="2.0" fill="none"/>
<line x1="122.2" y1="1538.0" x2="131.5" y2="1538.0" stroke="#000" stroke-width="2.0"/>
<text transform="translate(94.61,1548.80) scale(1.1200,1)" font-size="26.5">2</text>
<line x1="122.2" y1="1637.9" x2="131.5" y2="1637.9" stroke="#000" stroke-width="2.0"/>
<text transform="translate(94.54,1648.65) scale(1.1200,1)" font-size="26.5">1</text>
<line x1="122.2" y1="1737.7" x2="131.5" y2="1737.7" stroke="#000" stroke-width="2.0"/>
<text transform="translate(94.24,1748.50) scale(1.1200,1)" font-size="26.5">0</text>
<line x1="122.2" y1="1837.5" x2="131.5" y2="1837.5" stroke="#000" stroke-width="2.0"/>
<text transform="translate(72.15,1848.35) scale(1.2936,1)" font-size="26.5">−1</text>
<line x1="122.2" y1="1937.4" x2="131.5" y2="1937.4" stroke="#000" stroke-width="2.0"/>
<text transform="translate(72.23,1948.20) scale(1.2936,1)" font-size="26.5">−2</text>
<line x1="161.7" y1="1966.8" x2="161.7" y2="1976.1" stroke="#000" stroke-width="2.0"/>
<text transform="translate(141.91,2008.50) scale(1.3104,1)" font-size="26.5">−2</text>
<line x1="261.7" y1="1966.8" x2="261.7" y2="1976.1" stroke="#000" stroke-width="2.0"/>
<text transform="translate(241.81,2008.50) scale(1.3104,1)" font-size="26.5">−1</text>
<line x1="361.6" y1="1966.8" x2="361.6" y2="1976.1" stroke="#000" stroke-width="2.0"/>
<text transform="translate(353.33,2008.50) scale(1.1200,1)" font-size="26.5">0</text>
<line x1="461.6" y1="1966.8" x2="461.6" y2="1976.1" stroke="#000" stroke-width="2.0"/>
<text transform="translate(452.91,2008.50) scale(1.1200,1)" font-size="26.5">1</text>
<line x1="561.5" y1="1966.8" x2="561.5" y2="1976.1" stroke="#000" stroke-width="2.0"/>
<text transform="translate(553.26,2008.50) scale(1.1200,1)" font-size="26.5">2</text>
<text transform="translate(231.76,2058.60) scale(0.9919,1)" font-size="46.5"><tspan font-style="italic">ω</tspan>B97M-D3BJ</text>
<text transform="translate(204.36,2110.30) scale(0.9823,1)" font-size="46.5">@Def2SVP BEC</text>
<text transform="translate(52.10,1854.40) rotate(-90) scale(0.9450,1)" font-size="48.8">LES BEC [e]</text>
<text transform="translate(311.35,1855.50) scale(0.9663,1)" font-size="44.07" font-style="italic">Z</text>
<text transform="translate(344.75,1851.51) scale(0.9138,1)" font-size="46.86">*</text>
<text transform="translate(341.48,1867.20) scale(1.1279,1)" font-size="31" font-style="italic">iαα</text>
<text transform="translate(403.47,1855.77) scale(1.3231,1)" font-size="43.41">=</text>
<text transform="translate(448.44,1854.98) scale(0.8399,1)" font-size="41.37" font-style="italic">∂</text>
<text transform="translate(469.95,1855.83) scale(1.2596,1)" font-size="44.79" font-weight="bold">μ</text>
<text transform="translate(504.45,1862.20) scale(0.9158,1)" font-size="29.77" font-style="italic">α</text>
<text transform="translate(526.09,1859.71) scale(0.7396,1)" font-size="49.25" font-style="italic">/</text>
<text transform="translate(540.64,1854.98) scale(0.8399,1)" font-size="41.37" font-style="italic">∂</text>
<text transform="translate(563.63,1855.50) scale(1.3023,1)" font-size="43.35" font-weight="bold">r</text>
<text transform="translate(585.50,1862.50) scale(1.0806,1)" font-size="31" font-style="italic">iα</text>
<text transform="translate(361.84,1925.50) scale(0.8467,1)" font-size="45.82" font-style="italic">R</text>
<text transform="translate(395.24,1908.00) scale(1.0474,1)" font-size="31.68">2</text>
<text transform="translate(432.67,1925.77) scale(1.3231,1)" font-size="43.41">=</text>
<text transform="translate(482.39,1925.50) scale(1.1001,1)" font-size="45.6">0.976</text>
<g fill="#1f77b4" clip-path="url(#cf)"><circle cx="1156.7" cy="1653.4" r="9.2"/><circle cx="1163.7" cy="1653.4" r="9.2"/><circle cx="1170.7" cy="1653.4" r="9.2"/><circle cx="1177.7" cy="1653.4" r="9.2"/><circle cx="1184.7" cy="1653.4" r="9.2"/><circle cx="1191.7" cy="1653.4" r="9.2"/><circle cx="1149.7" cy="1660.4" r="9.2"/><circle cx="1156.7" cy="1660.4" r="9.2"/><circle cx="1163.7" cy="1660.4" r="9.2"/><circle cx="1170.7" cy="1660.4" r="9.2"/><circle cx="1177.7" cy="1660.4" r="9.2"/><circle cx="1184.7" cy="1660.4" r="9.2"/><circle cx="1191.7" cy="1660.4" r="9.2"/><circle cx="1142.7" cy="1667.4" r="9.2"/><circle cx="1149.7" cy="1667.4" r="9.2"/><circle cx="1156.7" cy="1667.4" r="9.2"/><circle cx="1163.7" cy="1667.4" r="9.2"/><circle cx="1170.7" cy="1667.4" r="9.2"/><circle cx="1177.7" cy="1667.4" r="9.2"/><circle cx="1184.7" cy="1667.4" r="9.2"/><circle cx="1135.7" cy="1674.4" r="9.2"/><circle cx="1142.7" cy="1674.4" r="9.2"/><circle cx="1149.7" cy="1674.4" r="9.2"/><circle cx="1156.7" cy="1674.4" r="9.2"/><circle cx="1163.7" cy="1674.4" r="9.2"/><circle cx="1170.7" cy="1674.4" r="9.2"/><circle cx="1177.7" cy="1674.4" r="9.2"/><circle cx="1184.7" cy="1674.4" r="9.2"/><circle cx="1114.7" cy="1681.4" r="9.2"/><circle cx="1121.7" cy="1681.4" r="9.2"/><circle cx="1128.7" cy="1681.4" r="9.2"/><circle cx="1135.7" cy="1681.4" r="9.2"/><circle cx="1142.7" cy="1681.4" r="9.2"/><circle cx="1149.7" cy="1681.4" r="9.2"/><circle cx="1156.7" cy="1681.4" r="9.2"/><circle cx="1163.7" cy="1681.4" r="9.2"/><circle cx="1184.7" cy="1681.4" r="9.2"/><circle cx="1100.7" cy="1688.4" r="9.2"/><circle cx="1107.7" cy="1688.4" r="9.2"/><circle cx="1114.7" cy="1688.4" r="9.2"/><circle cx="1121.7" cy="1688.4" r="9.2"/><circle cx="1128.7" cy="1688.4" r="9.2"/><circle cx="1135.7" cy="1688.4" r="9.2"/><circle cx="1142.7" cy="1688.4" r="9.2"/><circle cx="1149.7" cy="1688.4" r="9.2"/><circle cx="1156.7" cy="1688.4" r="9.2"/><circle cx="1163.7" cy="1688.4" r="9.2"/><circle cx="1093.7" cy="1695.4" r="9.2"/><circle cx="1100.7" cy="1695.4" r="9.2"/><circle cx="1107.7" cy="1695.4" r="9.2"/><circle cx="1114.7" cy="1695.4" r="9.2"/><circle cx="1121.7" cy="1695.4" r="9.2"/><circle cx="1128.7" cy="1695.4" r="9.2"/><circle cx="1135.7" cy="1695.4" r="9.2"/><circle cx="1142.7" cy="1695.4" r="9.2"/><circle cx="1149.7" cy="1695.4" r="9.2"/><circle cx="1156.7" cy="1695.4" r="9.2"/><circle cx="1086.7" cy="1702.4" r="9.2"/><circle cx="1093.7" cy="1702.4" r="9.2"/><circle cx="1100.7" cy="1702.4" r="9.2"/><circle cx="1107.7" cy="1702.4" r="9.2"/><circle cx="1114.7" cy="1702.4" r="9.2"/><circle cx="1121.7" cy="1702.4" r="9.2"/><circle cx="1128.7" cy="1702.4" r="9.2"/><circle cx="1135.7" cy="1702.4" r="9.2"/><circle cx="1142.7" cy="1702.4" r="9.2"/><circle cx="1149.7" cy="1702.4" r="9.2"/><circle cx="1086.7" cy="1709.4" r="9.2"/><circle cx="1093.7" cy="1709.4" r="9.2"/><circle cx="1100.7" cy="1709.4" r="9.2"/><circle cx="1107.7" cy="1709.4" r="9.2"/><circle cx="1114.7" cy="1709.4" r="9.2"/><circle cx="1121.7" cy="1709.4" r="9.2"/><circle cx="1128.7" cy="1709.4" r="9.2"/><circle cx="1135.7" cy="1709.4" r="9.2"/><circle cx="1142.7" cy="1709.4" r="9.2"/><circle cx="1149.7" cy="1709.4" r="9.2"/><circle cx="1079.7" cy="1716.4" r="9.2"/><circle cx="1086.7" cy="1716.4" r="9.2"/><circle cx="1093.7" cy="1716.4" r="9.2"/><circle cx="1100.7" cy="1716.4" r="9.2"/><circle cx="1107.7" cy="1716.4" r="9.2"/><circle cx="1114.7" cy="1716.4" r="9.2"/><circle cx="1121.7" cy="1716.4" r="9.2"/><circle cx="1128.7" cy="1716.4" r="9.2"/><circle cx="1135.7" cy="1716.4" r="9.2"/><circle cx="1142.7" cy="1716.4" r="9.2"/><circle cx="1149.7" cy="1716.4" r="9.2"/><circle cx="1072.7" cy="1723.4" r="9.2"/><circle cx="1079.7" cy="1723.4" r="9.2"/><circle cx="1086.7" cy="1723.4" r="9.2"/><circle cx="1093.7" cy="1723.4" r="9.2"/><circle cx="1100.7" cy="1723.4" r="9.2"/><circle cx="1107.7" cy="1723.4" r="9.2"/><circle cx="1114.7" cy="1723.4" r="9.2"/><circle cx="1121.7" cy="1723.4" r="9.2"/><circle cx="1128.7" cy="1723.4" r="9.2"/><circle cx="1135.7" cy="1723.4" r="9.2"/><circle cx="1142.7" cy="1723.4" r="9.2"/><circle cx="1058.7" cy="1730.4" r="9.2"/><circle cx="1065.7" cy="1730.4" r="9.2"/><circle cx="1072.7" cy="1730.4" r="9.2"/><circle cx="1079.7" cy="1730.4" r="9.2"/><circle cx="1086.7" cy="1730.4" r="9.2"/><circle cx="1093.7" cy="1730.4" r="9.2"/><circle cx="1100.7" cy="1730.4" r="9.2"/><circle cx="1107.7" cy="1730.4" r="9.2"/><circle cx="1114.7" cy="1730.4" r="9.2"/><circle cx="1121.7" cy="1730.4" r="9.2"/><circle cx="1128.7" cy="1730.4" r="9.2"/><circle cx="1135.7" cy="1730.4" r="9.2"/><circle cx="1142.7" cy="1730.4" r="9.2"/><circle cx="1044.7" cy="1737.4" r="9.2"/><circle cx="1051.7" cy="1737.4" r="9.2"/><circle cx="1058.7" cy="1737.4" r="9.2"/><circle cx="1065.7" cy="1737.4" r="9.2"/><circle cx="1072.7" cy="1737.4" r="9.2"/><circle cx="1079.7" cy="1737.4" r="9.2"/><circle cx="1086.7" cy="1737.4" r="9.2"/><circle cx="1093.7" cy="1737.4" r="9.2"/><circle cx="1100.7" cy="1737.4" r="9.2"/><circle cx="1107.7" cy="1737.4" r="9.2"/><circle cx="1114.7" cy="1737.4" r="9.2"/><circle cx="1121.7" cy="1737.4" r="9.2"/><circle cx="1128.7" cy="1737.4" r="9.2"/><circle cx="1135.7" cy="1737.4" r="9.2"/><circle cx="1030.7" cy="1744.4" r="9.2"/><circle cx="1037.7" cy="1744.4" r="9.2"/><circle cx="1044.7" cy="1744.4" r="9.2"/><circle cx="1051.7" cy="1744.4" r="9.2"/><circle cx="1058.7" cy="1744.4" r="9.2"/><circle cx="1065.7" cy="1744.4" r="9.2"/><circle cx="1072.7" cy="1744.4" r="9.2"/><circle cx="1079.7" cy="1744.4" r="9.2"/><circle cx="1086.7" cy="1744.4" r="9.2"/><circle cx="1093.7" cy="1744.4" r="9.2"/><circle cx="1100.7" cy="1744.4" r="9.2"/><circle cx="1107.7" cy="1744.4" r="9.2"/><circle cx="1114.7" cy="1744.4" r="9.2"/><circle cx="1121.7" cy="1744.4" r="9.2"/><circle cx="1128.7" cy="1744.4" r="9.2"/><circle cx="1030.7" cy="1751.4" r="9.2"/><circle cx="1037.7" cy="1751.4" r="9.2"/><circle cx="1044.7" cy="1751.4" r="9.2"/><circle cx="1051.7" cy="1751.4" r="9.2"/><circle cx="1058.7" cy="1751.4" r="9.2"/><circle cx="1065.7" cy="1751.4" r="9.2"/><circle cx="1072.7" cy="1751.4" r="9.2"/><circle cx="1079.7" cy="1751.4" r="9.2"/><circle cx="1086.7" cy="1751.4" r="9.2"/><circle cx="1093.7" cy="1751.4" r="9.2"/><circle cx="1100.7" cy="1751.4" r="9.2"/><circle cx="1107.7" cy="1751.4" r="9.2"/><circle cx="1114.7" cy="1751.4" r="9.2"/><circle cx="1121.7" cy="1751.4" r="9.2"/><circle cx="1030.7" cy="1758.4" r="9.2"/><circle cx="1037.7" cy="1758.4" r="9.2"/><circle cx="1044.7" cy="1758.4" r="9.2"/><circle cx="1051.7" cy="1758.4" r="9.2"/><circle cx="1058.7" cy="1758.4" r="9.2"/><circle cx="1065.7" cy="1758.4" r="9.2"/><circle cx="1072.7" cy="1758.4" r="9.2"/><circle cx="1079.7" cy="1758.4" r="9.2"/><circle cx="1086.7" cy="1758.4" r="9.2"/><circle cx="1093.7" cy="1758.4" r="9.2"/><circle cx="1100.7" cy="1758.4" r="9.2"/><circle cx="1107.7" cy="1758.4" r="9.2"/><circle cx="1114.7" cy="1758.4" r="9.2"/><circle cx="1023.7" cy="1765.4" r="9.2"/><circle cx="1030.7" cy="1765.4" r="9.2"/><circle cx="1037.7" cy="1765.4" r="9.2"/><circle cx="1044.7" cy="1765.4" r="9.2"/><circle cx="1051.7" cy="1765.4" r="9.2"/><circle cx="1058.7" cy="1765.4" r="9.2"/><circle cx="1065.7" cy="1765.4" r="9.2"/><circle cx="1072.7" cy="1765.4" r="9.2"/><circle cx="1079.7" cy="1765.4" r="9.2"/><circle cx="1086.7" cy="1765.4" r="9.2"/><circle cx="1093.7" cy="1765.4" r="9.2"/><circle cx="1100.7" cy="1765.4" r="9.2"/><circle cx="1016.7" cy="1772.4" r="9.2"/><circle cx="1023.7" cy="1772.4" r="9.2"/><circle cx="1030.7" cy="1772.4" r="9.2"/><circle cx="1037.7" cy="1772.4" r="9.2"/><circle cx="1044.7" cy="1772.4" r="9.2"/><circle cx="1051.7" cy="1772.4" r="9.2"/><circle cx="1058.7" cy="1772.4" r="9.2"/><circle cx="1065.7" cy="1772.4" r="9.2"/><circle cx="1072.7" cy="1772.4" r="9.2"/><circle cx="1079.7" cy="1772.4" r="9.2"/><circle cx="1086.7" cy="1772.4" r="9.2"/><circle cx="1093.7" cy="1772.4" r="9.2"/><circle cx="1009.7" cy="1779.4" r="9.2"/><circle cx="1016.7" cy="1779.4" r="9.2"/><circle cx="1023.7" cy="1779.4" r="9.2"/><circle cx="1030.7" cy="1779.4" r="9.2"/><circle cx="1037.7" cy="1779.4" r="9.2"/><circle cx="1044.7" cy="1779.4" r="9.2"/><circle cx="1051.7" cy="1779.4" r="9.2"/><circle cx="1058.7" cy="1779.4" r="9.2"/><circle cx="1065.7" cy="1779.4" r="9.2"/><circle cx="1072.7" cy="1779.4" r="9.2"/><circle cx="1079.7" cy="1779.4" r="9.2"/><circle cx="1086.7" cy="1779.4" r="9.2"/><circle cx="1009.7" cy="1786.4" r="9.2"/><circle cx="1016.7" cy="1786.4" r="9.2"/><circle cx="1023.7" cy="1786.4" r="9.2"/><circle cx="1030.7" cy="1786.4" r="9.2"/><circle cx="1037.7" cy="1786.4" r="9.2"/><circle cx="1044.7" cy="1786.4" r="9.2"/><circle cx="1051.7" cy="1786.4" r="9.2"/><circle cx="1058.7" cy="1786.4" r="9.2"/><circle cx="1065.7" cy="1786.4" r="9.2"/><circle cx="1072.7" cy="1786.4" r="9.2"/><circle cx="1079.7" cy="1786.4" r="9.2"/><circle cx="1009.7" cy="1793.4" r="9.2"/><circle cx="1016.7" cy="1793.4" r="9.2"/><circle cx="1023.7" cy="1793.4" r="9.2"/><circle cx="1030.7" cy="1793.4" r="9.2"/><circle cx="1037.7" cy="1793.4" r="9.2"/><circle cx="1044.7" cy="1793.4" r="9.2"/><circle cx="1051.7" cy="1793.4" r="9.2"/><circle cx="1058.7" cy="1793.4" r="9.2"/><circle cx="1065.7" cy="1793.4" r="9.2"/><circle cx="1072.7" cy="1793.4" r="9.2"/><circle cx="1002.7" cy="1800.4" r="9.2"/><circle cx="1009.7" cy="1800.4" r="9.2"/><circle cx="1016.7" cy="1800.4" r="9.2"/><circle cx="1023.7" cy="1800.4" r="9.2"/><circle cx="1030.7" cy="1800.4" r="9.2"/><circle cx="1037.7" cy="1800.4" r="9.2"/><circle cx="1044.7" cy="1800.4" r="9.2"/><circle cx="1051.7" cy="1800.4" r="9.2"/><circle cx="1058.7" cy="1800.4" r="9.2"/><circle cx="1065.7" cy="1800.4" r="9.2"/><circle cx="1002.7" cy="1807.4" r="9.2"/><circle cx="1009.7" cy="1807.4" r="9.2"/><circle cx="1016.7" cy="1807.4" r="9.2"/><circle cx="1023.7" cy="1807.4" r="9.2"/><circle cx="1030.7" cy="1807.4" r="9.2"/><circle cx="1037.7" cy="1807.4" r="9.2"/><circle cx="1044.7" cy="1807.4" r="9.2"/><circle cx="1051.7" cy="1807.4" r="9.2"/><circle cx="1002.7" cy="1814.4" r="9.2"/><circle cx="1009.7" cy="1814.4" r="9.2"/><circle cx="1016.7" cy="1814.4" r="9.2"/><circle cx="1023.7" cy="1814.4" r="9.2"/><circle cx="1030.7" cy="1814.4" r="9.2"/><circle cx="1037.7" cy="1814.4" r="9.2"/><circle cx="1044.7" cy="1814.4" r="9.2"/><circle cx="1002.7" cy="1821.4" r="9.2"/><circle cx="1009.7" cy="1821.4" r="9.2"/><circle cx="1016.7" cy="1821.4" r="9.2"/><circle cx="1023.7" cy="1821.4" r="9.2"/><circle cx="1030.7" cy="1821.4" r="9.2"/><circle cx="1037.7" cy="1821.4" r="9.2"/><circle cx="1002.7" cy="1828.4" r="9.2"/><circle cx="1009.7" cy="1828.4" r="9.2"/><circle cx="1002.7" cy="1835.4" r="9.2"/><circle cx="995.7" cy="1840.0" r="9.2"/><circle cx="996.8" cy="1814.9" r="9.2"/><circle cx="1006.1" cy="1790.8" r="9.2"/><circle cx="1007.2" cy="1781.0" r="9.2"/><circle cx="1022.5" cy="1766.7" r="9.2"/><circle cx="1026.9" cy="1742.7" r="9.2"/><circle cx="1038.9" cy="1738.3" r="9.2"/><circle cx="1054.2" cy="1730.6" r="9.2"/><circle cx="1068.5" cy="1723.0" r="9.2"/><circle cx="1079.8" cy="1711.0" r="9.2"/><circle cx="1094.1" cy="1689.1" r="9.2"/><circle cx="1099.5" cy="1686.9" r="9.2"/><circle cx="1117.0" cy="1678.1" r="9.2"/><circle cx="1126.9" cy="1679.2" r="9.2"/><circle cx="1144.4" cy="1662.8" r="9.2"/><circle cx="1153.2" cy="1654.1" r="9.2"/><circle cx="1160.8" cy="1649.7" r="9.2"/><circle cx="1180.5" cy="1647.5" r="9.2"/><circle cx="1191.4" cy="1646.4" r="9.2"/><circle cx="1195.8" cy="1655.2" r="9.2"/><circle cx="1182.7" cy="1686.9" r="9.2"/><circle cx="1175.0" cy="1673.8" r="9.2"/><circle cx="1158.6" cy="1696.7" r="9.2"/><circle cx="1155.3" cy="1706.6" r="9.2"/><circle cx="1146.6" cy="1721.9" r="9.2"/><circle cx="1145.5" cy="1731.8" r="9.2"/><circle cx="1125.8" cy="1754.7" r="9.2"/><circle cx="1106.1" cy="1764.6" r="9.2"/><circle cx="1107.9" cy="1762.4" r="9.2"/><circle cx="1094.1" cy="1775.5" r="9.2"/><circle cx="1086.0" cy="1783.2" r="9.2"/><circle cx="1078.3" cy="1789.7" r="9.2"/><circle cx="1069.6" cy="1805.0" r="9.2"/><circle cx="1053.2" cy="1808.3" r="9.2"/><circle cx="1044.4" cy="1816.0" r="9.2"/><circle cx="1042.2" cy="1825.8" r="9.2"/><circle cx="1026.9" cy="1822.5" r="9.2"/><circle cx="1010.5" cy="1831.3" r="9.2"/></g>
<line x1="870.5" y1="1962.0" x2="1346.3" y2="1486.7" stroke="#808080" stroke-width="3.8" stroke-dasharray="14.4 6.8" clip-path="url(#cf)"/>
<rect x="870.5" y="1486.7" width="475.8" height="475.3" stroke="#000" stroke-width="2.0" fill="none"/>
<line x1="861.2" y1="1537.2" x2="870.5" y2="1537.2" stroke="#000" stroke-width="2.0"/>
<text transform="translate(833.51,1547.40) scale(1.1200,1)" font-size="26.5">2</text>
<line x1="861.2" y1="1638.7" x2="870.5" y2="1638.7" stroke="#000" stroke-width="2.0"/>
<text transform="translate(833.44,1648.90) scale(1.1200,1)" font-size="26.5">1</text>
<line x1="861.2" y1="1740.2" x2="870.5" y2="1740.2" stroke="#000" stroke-width="2.0"/>
<text transform="translate(833.14,1750.40) scale(1.1200,1)" font-size="26.5">0</text>
<line x1="861.2" y1="1841.7" x2="870.5" y2="1841.7" stroke="#000" stroke-width="2.0"/>
<text transform="translate(811.05,1851.90) scale(1.2936,1)" font-size="26.5">−1</text>
<line x1="861.2" y1="1943.2" x2="870.5" y2="1943.2" stroke="#000" stroke-width="2.0"/>
<text transform="translate(811.13,1953.40) scale(1.2936,1)" font-size="26.5">−2</text>
<line x1="889.3" y1="1962.0" x2="889.3" y2="1971.3" stroke="#000" stroke-width="2.0"/>
<text transform="translate(869.51,2002.20) scale(1.3104,1)" font-size="26.5">−2</text>
<line x1="990.8" y1="1962.0" x2="990.8" y2="1971.3" stroke="#000" stroke-width="2.0"/>
<text transform="translate(970.96,2002.20) scale(1.3104,1)" font-size="26.5">−1</text>
<line x1="1092.3" y1="1962.0" x2="1092.3" y2="1971.3" stroke="#000" stroke-width="2.0"/>
<text transform="translate(1084.03,2002.20) scale(1.1200,1)" font-size="26.5">0</text>
<line x1="1193.8" y1="1962.0" x2="1193.8" y2="1971.3" stroke="#000" stroke-width="2.0"/>
<text transform="translate(1185.16,2002.20) scale(1.1200,1)" font-size="26.5">1</text>
<line x1="1295.3" y1="1962.0" x2="1295.3" y2="1971.3" stroke="#000" stroke-width="2.0"/>
<text transform="translate(1287.06,2002.20) scale(1.1200,1)" font-size="26.5">2</text>
<text transform="translate(968.70,2050.80) scale(0.9696,1)" font-size="46.5"><tspan font-style="italic">ω</tspan>B97M-D3BJ</text>
<text transform="translate(941.14,2101.00) scale(0.9594,1)" font-size="46.5">@Def2SVP BEC</text>
<text transform="translate(792.10,1851.03) rotate(-90) scale(0.9270,1)" font-size="48.8">LES BEC [e]</text>
<text transform="translate(1041.35,1860.30) scale(0.9663,1)" font-size="44.07" font-style="italic">Z</text>
<text transform="translate(1074.75,1856.21) scale(0.9138,1)" font-size="46.86">*</text>
<text transform="translate(1071.48,1872.00) scale(1.1077,1)" font-size="31" font-style="italic">iαβ</text>
<text transform="translate(1129.97,1859.95) scale(1.4471,1)" font-size="39.69">=</text>
<text transform="translate(1173.68,1859.78) scale(0.9007,1)" font-size="41.37" font-style="italic">∂</text>
<text transform="translate(1196.79,1860.63) scale(1.1515,1)" font-size="44.79" font-weight="bold">μ</text>
<text transform="translate(1228.43,1867.00) scale(1.1267,1)" font-size="29.77" font-style="italic">α</text>
<text transform="translate(1251.48,1864.51) scale(0.7389,1)" font-size="48.98" font-style="italic">/</text>
<text transform="translate(1265.98,1859.78) scale(0.9007,1)" font-size="41.37" font-style="italic">∂</text>
<text transform="translate(1287.73,1860.30) scale(1.3023,1)" font-size="43.35" font-weight="bold">r</text>
<text transform="translate(1309.61,1867.30) scale(1.0468,1)" font-size="31" font-style="italic">iβ</text>
<text transform="translate(1093.09,1930.80) scale(0.8123,1)" font-size="45.53" font-style="italic">R</text>
<text transform="translate(1125.24,1915.00) scale(1.0522,1)" font-size="31.54">2</text>
<text transform="translate(1161.47,1931.27) scale(1.3231,1)" font-size="43.41">=</text>
<text transform="translate(1211.25,1930.80) scale(1.0684,1)" font-size="45.6">0.838</text>
<text transform="translate(1074.20,1176.74) scale(1.0504,1)" font-size="41.92" font-style="italic">Q</text>
<text transform="translate(1117.54,1177.83) scale(1.5050,1)" font-size="37.21">=</text>
<text transform="translate(1156.80,1177.28) scale(1.0979,1)" font-size="60.78">∑</text>
<text transform="translate(1168.50,1126.70) scale(0.9976,1)" font-size="30.11" font-style="italic">N</text>
<text transform="translate(1176.50,1220.80) scale(1.1134,1)" font-size="30.07" font-style="italic">i</text>
<text transform="translate(1199.66,1178.07) scale(1.0445,1)" font-size="42.55" font-style="italic">q</text>
<text transform="translate(1226.90,1184.70) scale(1.1573,1)" font-size="28.55" font-style="italic">i</text>
<text transform="translate(1234.38,1178.20) scale(1.3681,1)" font-size="44.09" font-weight="bold">r</text>
<text transform="translate(1257.50,1184.70) scale(1.1725,1)" font-size="28.55" font-style="italic">i</text>
<g stroke="#000" stroke-width="3" fill="none"><circle cx="1293.05" cy="1165.55" r="12.3"/><line x1="1284.4" y1="1156.9" x2="1301.7" y2="1174.2"/><line x1="1301.7" y1="1156.9" x2="1284.4" y2="1174.2"/></g>
<text transform="translate(1317.60,1178.20) scale(1.3608,1)" font-size="44.09" font-weight="bold">r</text>
<text transform="translate(1340.70,1184.70) scale(1.1573,1)" font-size="28.55" font-style="italic">i</text>
<text transform="translate(1109.21,1264.60) scale(0.8173,1)" font-size="44.51" font-style="italic">R</text>
<text transform="translate(1140.31,1248.20) scale(1.0780,1)" font-size="31.40">2</text>
<text transform="translate(1176.64,1264.23) scale(1.5050,1)" font-size="37.21">=</text>
<text transform="translate(1225.42,1265.70) scale(1.0871,1)" font-size="45.6">0.911</text>
<text transform="translate(70.03,119.02) scale(0.9127,1)" font-size="68.31" font-weight="bold">a</text>
<text transform="translate(679.42,111.02) scale(1.0384,1)" font-size="67.89" font-weight="bold">b</text>
<text transform="translate(38.34,767.02) scale(1.0450,1)" font-size="68.31" font-weight="bold">c</text>
<text transform="translate(692.28,767.93) scale(1.0446,1)" font-size="67.48" font-weight="bold">d</text>
<text transform="translate(38.32,1472.42) scale(1.0615,1)" font-size="67.95" font-weight="bold">e</text>
<text transform="translate(709.90,1465.80) scale(1.0865,1)" font-size="68.41" font-weight="bold">f</text>
<rect x="142.6" y="390.6" width="30.5" height="204" fill="url(#cbar)"/>
<text transform="translate(101.07,352.90) scale(1.0539,1)" font-size="52.5">+0.5</text>
<text transform="translate(84.83,660.50) scale(1.1707,1)" font-size="52.5">−0.5</text>
<text transform="translate(2.60,508.00) scale(1.0758,1)" font-size="52.5">q [e]</text>
<circle cx="377.0" cy="76.0" r="12.5" fill="url(#g2)"/>
<circle cx="371.4" cy="193.0" r="12" fill="url(#g2)"/>
<circle cx="422.7" cy="223.4" r="12" fill="url(#g2)"/>
<circle cx="511.4" cy="219.9" r="11" fill="url(#g2)"/>
<circle cx="462.4" cy="261.9" r="11" fill="url(#g2)"/>
<circle cx="280.0" cy="145.0" r="19" fill="url(#g3)"/>
<circle cx="273.3" cy="176.7" r="11.7" fill="url(#g2)"/>
<circle cx="448.4" cy="137.5" r="12.5" fill="url(#g2)"/>
<circle cx="474.0" cy="140.5" r="13" fill="url(#g2)"/>
<circle cx="543.0" cy="139.5" r="13.3" fill="url(#g2)"/>
<circle cx="545.3" cy="87.5" r="13.3" fill="url(#g2)"/>
<circle cx="415.7" cy="40.5" r="13.3" fill="url(#g2)"/>
<circle cx="344.8" cy="16.8" r="13.1" fill="url(#g2)"/>
<circle cx="358.0" cy="43.0" r="23" fill="url(#g1)"/>
<circle cx="370.2" cy="31.5" r="13.3" fill="url(#g2)"/>
<circle cx="393.7" cy="62.0" r="23" fill="url(#g1)"/>
<circle cx="306.2" cy="95.3" r="19.8" fill="url(#g3)"/>
<circle cx="321.9" cy="73.5" r="22.8" fill="url(#g1)"/>
<circle cx="296.8" cy="59.8" r="13.6" fill="url(#g2)"/>
<circle cx="331.3" cy="97.5" r="13.4" fill="url(#g2)"/>
<circle cx="298.9" cy="128.4" r="23" fill="url(#g1)"/>
<circle cx="289.7" cy="188.4" r="13.3" fill="url(#g2)"/>
<circle cx="294.5" cy="157.5" r="21" fill="url(#g3)"/>
<circle cx="317.7" cy="158.7" r="13.3" fill="url(#g2)"/>
<circle cx="461.3" cy="82.9" r="23" fill="url(#g1)"/>
<circle cx="471.8" cy="44.4" r="22" fill="url(#g4)"/>
<circle cx="529.0" cy="112.0" r="23" fill="url(#g1)"/>
<circle cx="533.6" cy="109.7" r="12.8" fill="url(#g2)"/>
<circle cx="485.8" cy="112.0" r="21" fill="url(#g3)"/>
<circle cx="422.9" cy="136.4" r="22" fill="url(#g3)"/>
<circle cx="419.2" cy="96.3" r="23" fill="url(#g1)"/>
<circle cx="402.9" cy="106.2" r="13.3" fill="url(#g2)"/>
<circle cx="450.7" cy="172.0" r="13.3" fill="url(#g2)"/>
<circle cx="408.7" cy="169.7" r="22" fill="url(#g1)"/>
<circle cx="401.7" cy="202.4" r="22.5" fill="url(#g1)"/>
<circle cx="441.4" cy="203.5" r="22.5" fill="url(#g1)"/>
<circle cx="379.6" cy="170.8" r="22" fill="url(#g4)"/>
<circle cx="469.4" cy="232.7" r="21" fill="url(#g1)"/>
<circle cx="485.8" cy="232.7" r="22.5" fill="url(#g1)"/>
<circle cx="490.4" cy="201.2" r="22" fill="url(#g4)"/>
<circle cx="485.8" cy="266.6" r="22" fill="url(#g4)"/>
<circle cx="321.2" cy="314.4" r="12.8" fill="url(#g2)"/>
<circle cx="348.0" cy="301.6" r="23" fill="url(#g1)"/>
<circle cx="351.5" cy="313.2" r="12.8" fill="url(#g2)"/>
<circle cx="377.2" cy="314.4" r="12.8" fill="url(#g2)"/>
<circle cx="348.0" cy="254.9" r="23" fill="url(#g1)"/>
<circle cx="316.5" cy="233.9" r="22" fill="url(#g4)"/>
<circle cx="386.6" cy="239.7" r="22" fill="url(#g3)"/>
<circle cx="404.0" cy="260.7" r="13.3" fill="url(#g2)"/>
<circle cx="334.5" cy="399.7" r="13.3" fill="url(#g5)" stroke="rgba(90,80,80,0.45)" stroke-width="1"/>
<circle cx="408.0" cy="429.9" r="13.8" fill="url(#g5)" stroke="rgba(90,80,80,0.45)" stroke-width="1"/>
<circle cx="370.0" cy="471.9" r="12.5" fill="url(#g5)" stroke="rgba(90,80,80,0.45)" stroke-width="1"/>
<circle cx="349.6" cy="420.0" r="24.3" fill="url(#g6)" stroke="rgba(90,80,80,0.45)" stroke-width="1"/>
<circle cx="363.4" cy="400.3" r="13.8" fill="url(#g5)" stroke="rgba(90,80,80,0.45)" stroke-width="1"/>
<circle cx="385.0" cy="448.2" r="24" fill="url(#g7)" stroke="rgba(90,80,80,0.45)" stroke-width="1"/>
<circle cx="297.8" cy="481.7" r="23.6" fill="url(#g8)" stroke="rgba(90,80,80,0.45)" stroke-width="1"/>
<circle cx="312.2" cy="448.3" r="23.6" fill="url(#g9)" stroke="rgba(90,80,80,0.45)" stroke-width="1"/>
<circle cx="286.0" cy="429.9" r="14.2" fill="url(#g5)" stroke="rgba(90,80,80,0.45)" stroke-width="1"/>
<circle cx="322.7" cy="462.7" r="13.8" fill="url(#g5)" stroke="rgba(90,80,80,0.45)" stroke-width="1"/>
<circle cx="285.8" cy="516.4" r="24" fill="url(#g10)" stroke="rgba(90,80,80,0.45)" stroke-width="1"/>
<circle cx="266.0" cy="545.0" r="22" fill="url(#g11)" stroke="rgba(90,80,80,0.45)" stroke-width="1"/>
<circle cx="283.3" cy="537.5" r="23" fill="url(#g12)" stroke="rgba(90,80,80,0.45)" stroke-width="1"/>
<circle cx="264.7" cy="576.5" r="13.5" fill="url(#g13)" stroke="rgba(90,80,80,0.45)" stroke-width="1"/>
<circle cx="277.1" cy="571.0" r="14" fill="url(#g13)" stroke="rgba(90,80,80,0.45)" stroke-width="1"/>
<circle cx="308.1" cy="530.5" r="13.6" fill="url(#g14)" stroke="rgba(90,80,80,0.45)" stroke-width="1"/>
<circle cx="468.8" cy="416.7" r="23" fill="url(#g15)" stroke="rgba(90,80,80,0.45)" stroke-width="1"/>
<circle cx="459.4" cy="456.9" r="24" fill="url(#g16)" stroke="rgba(90,80,80,0.45)" stroke-width="1"/>
<circle cx="547.5" cy="460.6" r="12.5" fill="url(#g5)" stroke="rgba(90,80,80,0.45)" stroke-width="1"/>
<circle cx="544.5" cy="510.2" r="13.6" fill="url(#g5)" stroke="rgba(90,80,80,0.45)" stroke-width="1"/>
<circle cx="530.1" cy="479.2" r="24" fill="url(#g17)" stroke="rgba(90,80,80,0.45)" stroke-width="1"/>
<circle cx="535.6" cy="465.6" r="13.6" fill="url(#g5)" stroke="rgba(90,80,80,0.45)" stroke-width="1"/>
<circle cx="471.8" cy="510.2" r="13.6" fill="url(#g14)" stroke="rgba(90,80,80,0.45)" stroke-width="1"/>
<circle cx="484.2" cy="482.9" r="23" fill="url(#g18)" stroke="rgba(90,80,80,0.45)" stroke-width="1"/>
<circle cx="442.8" cy="528.3" r="12.5" fill="url(#g19)" stroke="rgba(90,80,80,0.45)" stroke-width="1"/>
<circle cx="417.3" cy="520.1" r="23" fill="url(#g20)" stroke="rgba(90,80,80,0.45)" stroke-width="1"/>
<circle cx="414.8" cy="474.2" r="24" fill="url(#g21)" stroke="rgba(90,80,80,0.45)" stroke-width="1"/>
<circle cx="397.4" cy="473.7" r="13.6" fill="url(#g5)" stroke="rgba(90,80,80,0.45)" stroke-width="1"/>
<circle cx="367.6" cy="588.4" r="13.6" fill="url(#g5)" stroke="rgba(90,80,80,0.45)" stroke-width="1"/>
<circle cx="417.3" cy="631.8" r="13.6" fill="url(#g5)" stroke="rgba(90,80,80,0.45)" stroke-width="1"/>
<circle cx="444.5" cy="579.7" r="13.6" fill="url(#g5)" stroke="rgba(90,80,80,0.45)" stroke-width="1"/>
<circle cx="400.0" cy="553.0" r="23.5" fill="url(#g22)" stroke="rgba(90,80,80,0.45)" stroke-width="1"/>
<circle cx="373.4" cy="545.2" r="23" fill="url(#g23)" stroke="rgba(90,80,80,0.45)" stroke-width="1"/>
<circle cx="393.7" cy="594.6" r="24" fill="url(#g24)" stroke="rgba(90,80,80,0.45)" stroke-width="1"/>
<circle cx="507.8" cy="623.0" r="12" fill="url(#g5)" stroke="rgba(90,80,80,0.45)" stroke-width="1"/>
<circle cx="467.0" cy="633.5" r="20" fill="url(#g25)" stroke="rgba(90,80,80,0.45)" stroke-width="1"/>
<circle cx="434.6" cy="608.2" r="24" fill="url(#g7)" stroke="rgba(90,80,80,0.45)" stroke-width="1"/>
<circle cx="465.1" cy="667.7" r="13.6" fill="url(#g5)" stroke="rgba(90,80,80,0.45)" stroke-width="1"/>
<circle cx="483.0" cy="615.6" r="24" fill="url(#g26)" stroke="rgba(90,80,80,0.45)" stroke-width="1"/>
<circle cx="488.7" cy="579.7" r="23" fill="url(#g27)" stroke="rgba(90,80,80,0.45)" stroke-width="1"/>
<circle cx="484.2" cy="645.4" r="23" fill="url(#g27)" stroke="rgba(90,80,80,0.45)" stroke-width="1"/>
<circle cx="310.6" cy="706.2" r="14" fill="url(#g5)" stroke="rgba(90,80,80,0.45)" stroke-width="1"/>
<circle cx="368.9" cy="705.7" r="14" fill="url(#g5)" stroke="rgba(90,80,80,0.45)" stroke-width="1"/>
<circle cx="339.1" cy="690.0" r="24" fill="url(#g28)" stroke="rgba(90,80,80,0.45)" stroke-width="1"/>
<circle cx="343.3" cy="688.8" r="14" fill="url(#g5)" stroke="rgba(90,80,80,0.45)" stroke-width="1"/>
<circle cx="339.1" cy="644.2" r="24" fill="url(#g29)" stroke="rgba(90,80,80,0.45)" stroke-width="1"/>
<circle cx="304.4" cy="626.8" r="23.5" fill="url(#g30)" stroke="rgba(90,80,80,0.45)" stroke-width="1"/>
<circle cx="378.8" cy="629.3" r="23.5" fill="url(#g31)" stroke="rgba(90,80,80,0.45)" stroke-width="1"/>
<circle cx="398.2" cy="645.4" r="14.4" fill="url(#g32)" stroke="rgba(90,80,80,0.45)" stroke-width="1"/></svg>
</body></html>
